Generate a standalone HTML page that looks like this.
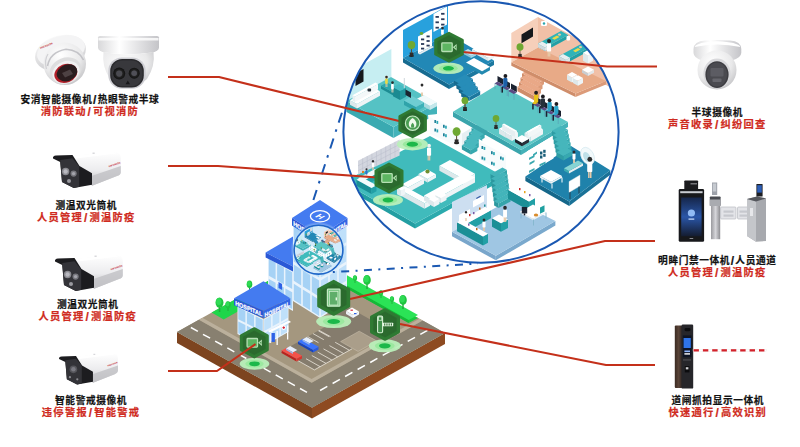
<!DOCTYPE html>
<html lang="zh"><head><meta charset="utf-8"><title>智慧医院安防方案</title>
<style>
html,body{margin:0;padding:0;background:#fff;overflow:hidden}
svg{display:block}
.bk{font-family:"Liberation Sans","Noto Sans CJK SC",sans-serif;font-weight:700;font-size:9.7px;fill:#111;stroke:#111;stroke-width:0.22px;text-anchor:middle;letter-spacing:0.6px}
.rd{font-family:"Liberation Sans","Noto Sans CJK SC",sans-serif;font-weight:700;font-size:10.25px;fill:#cf2a20;stroke:#cf2a20;stroke-width:0.2px;text-anchor:middle;letter-spacing:1.27px}
</style></head><body>
<svg width="800" height="447" viewBox="0 0 800 447">
<defs>
<clipPath id="bigc"><ellipse cx="481" cy="132" rx="137.3" ry="130.3"/></clipPath>
<clipPath id="smc"><circle cx="318.5" cy="249.7" r="24"/></clipPath>
<linearGradient id="gWhiteV" x1="0" y1="0" x2="0" y2="1"><stop offset="0" stop-color="#fafafa"/><stop offset="1" stop-color="#c9c9cc"/></linearGradient>
<linearGradient id="gWhiteH" x1="0" y1="0" x2="1" y2="0"><stop offset="0" stop-color="#d8d8da"/><stop offset="0.35" stop-color="#ffffff"/><stop offset="1" stop-color="#c4c4c8"/></linearGradient>
<radialGradient id="gDome" cx="0.4" cy="0.3" r="0.8"><stop offset="0" stop-color="#ffffff"/><stop offset="0.6" stop-color="#e9e9ea"/><stop offset="1" stop-color="#bdbdc0"/></radialGradient>
<radialGradient id="gLens" cx="0.5" cy="0.5" r="0.5"><stop offset="0" stop-color="#555"/><stop offset="0.6" stop-color="#222"/><stop offset="1" stop-color="#111"/></radialGradient>
<linearGradient id="gBody" x1="0" y1="0" x2="0" y2="1"><stop offset="0" stop-color="#ffffff"/><stop offset="0.55" stop-color="#ececee"/><stop offset="1" stop-color="#b9b9bd"/></linearGradient>
<linearGradient id="gMetal" x1="0" y1="0" x2="1" y2="0"><stop offset="0" stop-color="#9a9a9e"/><stop offset="0.5" stop-color="#d6d6da"/><stop offset="1" stop-color="#8c8c90"/></linearGradient>
<linearGradient id="gScreen" x1="0" y1="0" x2="0" y2="1"><stop offset="0" stop-color="#16264a"/><stop offset="0.5" stop-color="#2a56a8"/><stop offset="1" stop-color="#141c30"/></linearGradient>
<linearGradient id="gBronze" x1="0" y1="0" x2="1" y2="0"><stop offset="0" stop-color="#3a2a22"/><stop offset="0.5" stop-color="#5a4438"/><stop offset="1" stop-color="#2a2220"/></linearGradient>
<radialGradient id="gGlow" cx="0.5" cy="0.5" r="0.5"><stop offset="0.8" stop-color="#bfe0f8" stop-opacity="0.9"/><stop offset="1" stop-color="#bfe0f8" stop-opacity="0"/></radialGradient>
</defs>
<rect x="0.0" y="0.0" width="800.0" height="447.0" fill="#ffffff" />
<g clip-path="url(#bigc)"><g id="bigart">
<polygon points="391.4,77.0 345.0,102.5 345.0,74.5 391.4,49.0" fill="#c6eef2" />
<polygon points="355.5,73.5 363.5,69.0 363.5,81.5 355.5,86.0" fill="#15181c" />
<polygon points="346.5,101.0 393.5,127.0 393.5,138.0 346.5,112.0" fill="#3aaab1" />
<polygon points="393.5,127.0 437.0,103.0 437.0,114.0 393.5,138.0" fill="#43b3ba" />
<polygon points="391.0,77.0 437.0,103.0 393.5,127.0 346.5,101.0" fill="#55c2c4" />
<polygon points="350.0,100.2 357.0,104.0 357.0,108.5 350.0,104.7" fill="#dde8eb" />
<polygon points="357.0,104.0 380.0,91.3 380.0,95.8 357.0,108.5" fill="#eef4f6" />
<polygon points="373.0,87.5 380.0,91.3 357.0,104.0 350.0,100.2" fill="#ffffff" />
<polygon points="352.5,95.2 355.0,96.5 355.0,102.0 352.5,100.7" fill="#e9f1f3" />
<polygon points="355.0,96.5 378.0,83.9 378.0,89.4 355.0,102.0" fill="#f4f8f9" />
<polygon points="375.5,82.5 378.0,83.9 355.0,96.5 352.5,95.2" fill="#ffffff" />
<rect x="367.5" y="88.5" width="3.6" height="3.0" fill="#26303a" rx="1"/>
<polygon points="381.0,85.8 396.0,94.0 396.0,97.0 381.0,88.8" fill="#1d8c93" />
<polygon points="396.0,94.0 402.0,90.8 402.0,93.8 396.0,97.0" fill="#23999f" />
<polygon points="387.0,82.5 402.0,90.8 396.0,94.0 381.0,85.8" fill="#2aa7ae" />
<polygon points="393.0,87.3 400.0,91.1 400.0,100.1 393.0,96.3" fill="#1b8a91" />
<polygon points="400.0,91.1 406.0,87.8 406.0,96.8 400.0,100.1" fill="#23999f" />
<polygon points="399.0,84.0 406.0,87.8 400.0,91.1 393.0,87.3" fill="#45bcc3" />
<polygon points="417.0,98.8 430.0,106.0 430.0,110.0 417.0,102.8" fill="#a9dadf" />
<polygon points="430.0,106.0 437.0,102.2 437.0,106.2 430.0,110.0" fill="#c4e7eb" />
<polygon points="424.0,95.0 437.0,102.2 430.0,106.0 417.0,98.8" fill="#f2fafb" />
<polygon points="404.0,100.4 416.0,107.0 416.0,111.5 404.0,104.9" fill="#2fa3aa" />
<polygon points="416.0,107.0 424.0,102.6 424.0,107.1 416.0,111.5" fill="#3db1b8" />
<polygon points="412.0,96.0 424.0,102.6 416.0,107.0 404.0,100.4" fill="#6fcdd2" />
<rect x="385.6" y="83.4" width="0.8" height="3.6" fill="#e6c9a8" />
<rect x="386.6" y="83.4" width="0.8" height="3.6" fill="#e6c9a8" />
<rect x="385.1" y="78.5" width="2.7" height="5.4" fill="#e8d84a" rx="0.8"/>
<ellipse cx="386.5" cy="77.1" rx="1.3" ry="1.4" fill="#3a2a20" />
<rect x="391.6" y="88.9" width="0.8" height="3.6" fill="#e6c9a8" />
<rect x="392.6" y="88.9" width="0.8" height="3.6" fill="#e6c9a8" />
<rect x="391.1" y="84.0" width="2.7" height="5.4" fill="#ffffff" rx="0.8"/>
<ellipse cx="392.5" cy="82.6" rx="1.3" ry="1.4" fill="#2b2b2b" />
<rect x="421.0" y="92.0" width="0.9" height="4.0" fill="#e6c9a8" />
<rect x="422.1" y="92.0" width="0.9" height="4.0" fill="#e6c9a8" />
<rect x="420.5" y="86.5" width="3.0" height="6.0" fill="#ffffff" rx="0.8"/>
<ellipse cx="422.0" cy="85.0" rx="1.4" ry="1.5" fill="#2b2b2b" />
<rect x="403.8" y="78.0" width="1.0" height="10.0" fill="#cfd8dc" />
<polygon points="405.5,89.5 411.0,92.5 411.0,98.0 405.5,95.0" fill="#1a2530" />
<polygon points="343.0,182.0 415.0,223.5 415.0,228.5 343.0,187.0" fill="#239ea2" />
<polygon points="415.0,223.5 502.0,175.6 502.0,180.6 415.0,228.5" fill="#2baaad" />
<polygon points="430.0,136.0 502.0,175.6 415.0,223.5 343.0,182.0" fill="#40bbbc" />
<polygon points="358.0,174.5 399.6,155.5 399.6,139.4 358.0,160.8" fill="#d3d6df" />
<line x1="362.6" y1="158.4" x2="362.6" y2="173.4" stroke="#b9bdca" stroke-width="0.50" />
<line x1="367.2" y1="156.0" x2="367.2" y2="171.0" stroke="#b9bdca" stroke-width="0.50" />
<line x1="371.9" y1="153.7" x2="371.9" y2="168.7" stroke="#b9bdca" stroke-width="0.50" />
<line x1="376.5" y1="151.3" x2="376.5" y2="166.3" stroke="#b9bdca" stroke-width="0.50" />
<line x1="381.1" y1="148.9" x2="381.1" y2="163.9" stroke="#b9bdca" stroke-width="0.50" />
<line x1="385.7" y1="146.5" x2="385.7" y2="161.5" stroke="#b9bdca" stroke-width="0.50" />
<line x1="390.3" y1="144.1" x2="390.3" y2="159.1" stroke="#b9bdca" stroke-width="0.50" />
<line x1="395.0" y1="141.8" x2="395.0" y2="156.8" stroke="#b9bdca" stroke-width="0.50" />
<line x1="358.0" y1="165.8" x2="399.6" y2="144.4" stroke="#b9bdca" stroke-width="0.50" />
<line x1="358.0" y1="170.8" x2="399.6" y2="149.4" stroke="#b9bdca" stroke-width="0.50" />
<polygon points="358.0,178.3 363.0,181.1 363.0,187.1 358.0,184.3" fill="#1b8f96" />
<polygon points="363.0,181.1 380.0,171.8 380.0,177.8 363.0,187.1" fill="#22a0a6" />
<polygon points="375.0,169.0 380.0,171.8 363.0,181.1 358.0,178.3" fill="#f4fbfc" />
<polygon points="356.5,179.8 371.5,188.0 371.5,194.0 356.5,185.8" fill="#1b8f96" />
<polygon points="371.5,188.0 376.5,185.2 376.5,191.2 371.5,194.0" fill="#22a0a6" />
<polygon points="361.5,177.0 376.5,185.2 371.5,188.0 356.5,179.8" fill="#f4fbfc" />
<rect x="372.2" y="166.8" width="0.7" height="3.2" fill="#e6c9a8" />
<rect x="373.1" y="166.8" width="0.7" height="3.2" fill="#e6c9a8" />
<rect x="371.8" y="162.4" width="2.4" height="4.8" fill="#ffffff" rx="0.8"/>
<ellipse cx="373.0" cy="161.2" rx="1.1" ry="1.2" fill="#2b2b2b" />
<rect x="365.8" y="174.2" width="0.6" height="2.8" fill="#e6c9a8" />
<rect x="366.6" y="174.2" width="0.6" height="2.8" fill="#e6c9a8" />
<rect x="365.4" y="170.3" width="2.1" height="4.2" fill="#2a6fd0" rx="0.8"/>
<ellipse cx="366.5" cy="169.3" rx="1.0" ry="1.0" fill="#2b2b2b" />
<rect x="362.0" y="171.0" width="2.0" height="2.0" fill="#d9822b" />
<polygon points="418.5,174.0 427.5,178.9 427.5,182.4 418.5,177.5" fill="#dde8eb" />
<polygon points="427.5,178.9 436.0,174.2 436.0,177.8 427.5,182.4" fill="#eef4f6" />
<polygon points="427.0,169.3 436.0,174.2 427.5,178.9 418.5,174.0" fill="#ffffff" />
<ellipse cx="427.5" cy="171.5" rx="2.1" ry="2.1" fill="#6f8f2f" />
<polygon points="402.0,184.3 408.0,187.6 408.0,192.6 402.0,189.3" fill="#dde8eb" />
<polygon points="408.0,187.6 424.0,178.8 424.0,183.8 408.0,192.6" fill="#eef4f6" />
<polygon points="418.0,175.5 424.0,178.8 408.0,187.6 402.0,184.3" fill="#ffffff" />
<polygon points="399.5,189.5 424.5,203.3 424.5,208.8 399.5,195.0" fill="#dde8eb" />
<polygon points="424.5,203.3 430.0,200.2 430.0,205.8 424.5,208.8" fill="#eef4f6" />
<polygon points="405.0,186.5 430.0,200.2 424.5,203.3 399.5,189.5" fill="#ffffff" />
<polygon points="397.0,188.2 401.0,190.4 401.0,196.4 397.0,194.2" fill="#dde8eb" />
<polygon points="401.0,190.4 405.0,188.2 405.0,194.2 401.0,196.4" fill="#eef4f6" />
<polygon points="401.0,186.0 405.0,188.2 401.0,190.4 397.0,188.2" fill="#ffffff" />
<polygon points="439.4,165.8 464.4,179.6 464.4,184.6 439.4,170.8" fill="#dde8eb" />
<polygon points="464.4,179.6 475.0,173.8 475.0,178.8 464.4,184.6" fill="#eef4f6" />
<polygon points="450.0,160.0 475.0,173.8 464.4,179.6 439.4,165.8" fill="#ffffff" />
<polygon points="424.0,195.6 433.0,200.5 433.0,205.5 424.0,200.6" fill="#dde8eb" />
<polygon points="433.0,200.5 475.0,177.4 475.0,182.4 433.0,205.5" fill="#eef4f6" />
<polygon points="466.0,172.5 475.0,177.4 433.0,200.5 424.0,195.6" fill="#ffffff" />
<polygon points="435.5,195.0 441.0,198.1 441.0,203.1 435.5,200.0" fill="#dde8eb" />
<polygon points="441.0,198.1 446.5,195.0 446.5,200.0 441.0,203.1" fill="#eef4f6" />
<polygon points="441.0,192.0 446.5,195.0 441.0,198.1 435.5,195.0" fill="#ffffff" />
<polygon points="428.5,199.0 434.0,202.1 434.0,207.1 428.5,204.0" fill="#dde8eb" />
<polygon points="434.0,202.1 439.5,199.0 439.5,204.0 434.0,207.1" fill="#eef4f6" />
<polygon points="434.0,196.0 439.5,199.0 434.0,202.1 428.5,199.0" fill="#ffffff" />
<rect x="427.6" y="155.1" width="1.2" height="5.4" fill="#e6c9a8" />
<rect x="429.1" y="155.1" width="1.2" height="5.4" fill="#e6c9a8" />
<rect x="427.0" y="147.7" width="4.1" height="8.1" fill="#ffffff" rx="0.8"/>
<ellipse cx="429.0" cy="145.7" rx="1.9" ry="2.0" fill="#f2f2f2" />
<polygon points="428.0,115.0 453.0,112.5 474.0,128.0 474.0,150.0 462.0,148.0 430.0,134.0" fill="#ffffff" />
<polygon points="430.0,117.0 462.0,133.5 462.0,148.0 430.0,134.0" fill="#f7fbfc" />
<polygon points="462.0,133.5 470.5,128.5 470.5,143.5 462.0,148.0" fill="#e7eff2" />
<rect x="434.4" y="120.0" width="1.7" height="3.0" fill="#1d7f98" />
<rect x="436.5" y="120.9" width="1.7" height="3.0" fill="#2aa7b4" />
<rect x="443.0" y="124.8" width="1.7" height="3.0" fill="#1d7f98" />
<rect x="445.1" y="125.7" width="1.7" height="3.0" fill="#2aa7b4" />
<rect x="434.4" y="128.5" width="1.7" height="3.0" fill="#1d7f98" />
<rect x="436.5" y="129.4" width="1.7" height="3.0" fill="#2aa7b4" />
<rect x="443.0" y="133.3" width="1.7" height="3.0" fill="#1d7f98" />
<rect x="445.1" y="134.2" width="1.7" height="3.0" fill="#2aa7b4" />
<ellipse cx="456.6" cy="143.0" rx="2.6" ry="1.2" fill="#222" />
<rect x="454.7" y="139.4" width="3.8" height="3.6" fill="#2b2b2b" />
<rect x="456.1" y="133.4" width="1.0" height="6.6" fill="#5a4a32" />
<ellipse cx="456.6" cy="131.6" rx="4.0" ry="4.3" fill="#6fa832" />
<polygon points="471.5,128.1 480.5,133.0 480.5,137.3 471.5,132.4" fill="#2f9da4" />
<polygon points="480.5,133.0 487.0,129.4 487.0,133.8 480.5,137.3" fill="#38a9af" />
<polygon points="478.0,124.5 487.0,129.4 480.5,133.0 471.5,128.1" fill="#49b8be" />
<polygon points="469.1,132.4 478.1,137.3 478.1,141.6 469.1,136.7" fill="#2f9da4" />
<polygon points="478.1,137.3 484.6,133.8 484.6,138.1 478.1,141.6" fill="#38a9af" />
<polygon points="475.6,128.8 484.6,133.8 478.1,137.3 469.1,132.4" fill="#49b8be" />
<polygon points="466.7,136.7 475.7,141.6 475.7,145.9 466.7,141.0" fill="#2f9da4" />
<polygon points="475.7,141.6 482.2,138.0 482.2,142.3 475.7,145.9" fill="#38a9af" />
<polygon points="473.2,133.1 482.2,138.0 475.7,141.6 466.7,136.7" fill="#49b8be" />
<polygon points="464.3,141.0 473.3,145.9 473.3,150.2 464.3,145.3" fill="#2f9da4" />
<polygon points="473.3,145.9 479.8,142.3 479.8,146.7 473.3,150.2" fill="#38a9af" />
<polygon points="470.8,137.4 479.8,142.3 473.3,145.9 464.3,141.0" fill="#49b8be" />
<polygon points="461.9,145.3 470.9,150.2 470.9,154.5 461.9,149.6" fill="#2f9da4" />
<polygon points="470.9,150.2 477.4,146.6 477.4,150.9 470.9,154.5" fill="#38a9af" />
<polygon points="468.4,141.7 477.4,146.6 470.9,150.2 461.9,145.3" fill="#49b8be" />
<polygon points="478.8,139.0 515.0,159.0 515.0,182.0 478.8,162.0" fill="#ffffff" />
<polygon points="479.5,141.0 506.0,155.5 506.0,174.0 479.5,159.5" fill="#f7fbfc" />
<rect x="481.5" y="146.0" width="1.7" height="3.0" fill="#1d7f98" />
<rect x="483.6" y="146.9" width="1.7" height="3.0" fill="#2aa7b4" />
<rect x="491.0" y="151.2" width="1.7" height="3.0" fill="#1d7f98" />
<rect x="493.1" y="152.1" width="1.7" height="3.0" fill="#2aa7b4" />
<rect x="481.5" y="156.5" width="1.7" height="3.0" fill="#1d7f98" />
<rect x="483.6" y="157.4" width="1.7" height="3.0" fill="#2aa7b4" />
<rect x="491.0" y="161.7" width="1.7" height="3.0" fill="#1d7f98" />
<rect x="493.1" y="162.6" width="1.7" height="3.0" fill="#2aa7b4" />
<rect x="500.0" y="156.5" width="1.7" height="3.0" fill="#1d7f98" />
<rect x="502.1" y="157.4" width="1.7" height="3.0" fill="#2aa7b4" />
<polygon points="521.0,155.0 568.0,127.0 568.0,160.0 521.0,190.0" fill="#ffffff" />
<polygon points="453.0,111.7 521.0,150.0 521.0,155.0 453.0,116.7" fill="#3aa5ac" />
<polygon points="521.0,150.0 568.0,122.0 568.0,127.0 521.0,155.0" fill="#45b2b8" />
<polygon points="498.5,84.0 568.0,122.0 521.0,150.0 453.0,111.7" fill="#5cc6c5" />
<polygon points="522.0,73.2 539.0,82.6 539.0,87.1 522.0,77.8" fill="#cf8d6a" />
<polygon points="539.0,82.6 544.0,79.8 544.0,84.3 539.0,87.1" fill="#dc9b79" />
<polygon points="527.0,70.5 544.0,79.8 539.0,82.6 522.0,73.2" fill="#e9a887" />
<polygon points="520.5,77.8 537.5,87.1 537.5,91.6 520.5,82.2" fill="#cf8d6a" />
<polygon points="537.5,87.1 542.5,84.3 542.5,88.8 537.5,91.6" fill="#dc9b79" />
<polygon points="525.5,75.0 542.5,84.3 537.5,87.1 520.5,77.8" fill="#e9a887" />
<polygon points="519.0,82.2 536.0,91.6 536.0,96.1 519.0,86.8" fill="#cf8d6a" />
<polygon points="536.0,91.6 541.0,88.8 541.0,93.3 536.0,96.1" fill="#dc9b79" />
<polygon points="524.0,79.5 541.0,88.8 536.0,91.6 519.0,82.2" fill="#e9a887" />
<polygon points="517.5,86.8 534.5,96.1 534.5,100.6 517.5,91.2" fill="#cf8d6a" />
<polygon points="534.5,96.1 539.5,93.3 539.5,97.8 534.5,100.6" fill="#dc9b79" />
<polygon points="522.5,84.0 539.5,93.3 534.5,96.1 517.5,86.8" fill="#e9a887" />
<ellipse cx="465.0" cy="110.0" rx="2.2" ry="1.0" fill="#222" />
<rect x="463.4" y="107.0" width="3.2" height="3.0" fill="#2b2b2b" />
<rect x="464.6" y="102.0" width="0.8" height="5.5" fill="#5a4a32" />
<ellipse cx="465.0" cy="100.5" rx="3.3" ry="3.6" fill="#6fa832" />
<ellipse cx="496.0" cy="128.0" rx="2.2" ry="1.0" fill="#222" />
<rect x="494.4" y="125.0" width="3.2" height="3.0" fill="#2b2b2b" />
<rect x="495.6" y="120.0" width="0.8" height="5.5" fill="#5a4a32" />
<ellipse cx="496.0" cy="118.5" rx="3.3" ry="3.6" fill="#6fa832" />
<polygon points="497.5,76.0 503.2,79.1 503.2,84.8 497.5,81.6" fill="#1b2230" />
<polygon points="497.5,81.6 503.2,84.8 500.2,86.5 494.5,83.4" fill="#5a4a82" />
<line x1="495.0" y1="83.5" x2="495.0" y2="89.1" stroke="#5aa0b4" stroke-width="0.70" />
<line x1="500.5" y1="86.5" x2="500.5" y2="92.2" stroke="#5aa0b4" stroke-width="0.70" />
<polygon points="504.2,79.8 510.0,82.9 510.0,88.5 504.2,85.4" fill="#1b2230" />
<polygon points="504.2,85.4 510.0,88.5 507.0,90.2 501.2,87.1" fill="#5a4a82" />
<line x1="501.8" y1="87.2" x2="501.8" y2="92.9" stroke="#5aa0b4" stroke-width="0.70" />
<line x1="507.2" y1="90.2" x2="507.2" y2="96.0" stroke="#5aa0b4" stroke-width="0.70" />
<rect x="503.2" y="77.9" width="4.2" height="8.1" fill="#1c5fa8" rx="1"/>
<ellipse cx="505.4" cy="76.0" rx="1.9" ry="2.0" fill="#1d1d22" />
<rect x="502.0" y="85.4" width="3.8" height="2.0" fill="#1c5fa8" />
<rect x="501.5" y="87.0" width="1.5" height="5.6" fill="#1b2230" />
<polygon points="511.0,83.5 516.8,86.6 516.8,92.2 511.0,89.1" fill="#1b2230" />
<polygon points="511.0,89.1 516.8,92.2 513.8,94.0 508.0,90.9" fill="#5a4a82" />
<line x1="508.5" y1="91.0" x2="508.5" y2="96.6" stroke="#5aa0b4" stroke-width="0.70" />
<line x1="514.0" y1="94.0" x2="514.0" y2="99.8" stroke="#5aa0b4" stroke-width="0.70" />
<polygon points="535.0,96.5 540.8,99.6 540.8,105.2 535.0,102.1" fill="#1b2230" />
<polygon points="535.0,102.1 540.8,105.2 537.8,107.0 532.0,103.9" fill="#5a4a82" />
<line x1="532.5" y1="104.0" x2="532.5" y2="109.6" stroke="#5aa0b4" stroke-width="0.70" />
<line x1="538.0" y1="107.0" x2="538.0" y2="112.8" stroke="#5aa0b4" stroke-width="0.70" />
<rect x="534.0" y="94.6" width="4.2" height="8.1" fill="#e8c21a" rx="1"/>
<ellipse cx="536.1" cy="92.8" rx="1.9" ry="2.0" fill="#1d1d22" />
<rect x="532.8" y="102.1" width="3.8" height="2.0" fill="#e8c21a" />
<rect x="532.2" y="103.8" width="1.5" height="5.6" fill="#1b2230" />
<polygon points="541.8,100.2 547.5,103.4 547.5,109.0 541.8,105.9" fill="#1b2230" />
<polygon points="541.8,105.9 547.5,109.0 544.5,110.8 538.8,107.6" fill="#5a4a82" />
<line x1="539.2" y1="107.8" x2="539.2" y2="113.4" stroke="#5aa0b4" stroke-width="0.70" />
<line x1="544.8" y1="110.8" x2="544.8" y2="116.5" stroke="#5aa0b4" stroke-width="0.70" />
<rect x="540.8" y="98.4" width="4.2" height="8.1" fill="#26303a" rx="1"/>
<ellipse cx="542.9" cy="96.5" rx="1.9" ry="2.0" fill="#1d1d22" />
<rect x="539.5" y="105.9" width="3.8" height="2.0" fill="#26303a" />
<rect x="539.0" y="107.5" width="1.5" height="5.6" fill="#1b2230" />
<polygon points="548.5,104.0 554.2,107.1 554.2,112.8 548.5,109.6" fill="#1b2230" />
<polygon points="548.5,109.6 554.2,112.8 551.2,114.5 545.5,111.4" fill="#5a4a82" />
<line x1="546.0" y1="111.5" x2="546.0" y2="117.1" stroke="#5aa0b4" stroke-width="0.70" />
<line x1="551.5" y1="114.5" x2="551.5" y2="120.2" stroke="#5aa0b4" stroke-width="0.70" />
<rect x="547.5" y="102.1" width="4.2" height="8.1" fill="#2aa3c8" rx="1"/>
<ellipse cx="549.6" cy="100.2" rx="1.9" ry="2.0" fill="#1d1d22" />
<rect x="546.2" y="109.6" width="3.8" height="2.0" fill="#2aa3c8" />
<rect x="545.8" y="111.2" width="1.5" height="5.6" fill="#1b2230" />
<polygon points="555.2,107.8 561.0,110.9 561.0,116.5 555.2,113.4" fill="#1b2230" />
<polygon points="555.2,113.4 561.0,116.5 558.0,118.2 552.2,115.1" fill="#5a4a82" />
<line x1="552.8" y1="115.2" x2="552.8" y2="120.9" stroke="#5aa0b4" stroke-width="0.70" />
<line x1="558.2" y1="118.2" x2="558.2" y2="124.0" stroke="#5aa0b4" stroke-width="0.70" />
<rect x="554.2" y="105.9" width="4.2" height="8.1" fill="#2aa3c8" rx="1"/>
<ellipse cx="556.4" cy="104.0" rx="1.9" ry="2.0" fill="#1d1d22" />
<rect x="553.0" y="113.4" width="3.8" height="2.0" fill="#2aa3c8" />
<rect x="552.5" y="115.0" width="1.5" height="5.6" fill="#1b2230" />
<polygon points="499.0,128.8 505.5,132.4 505.5,137.4 499.0,133.8" fill="#dde8eb" />
<polygon points="505.5,132.4 511.5,129.1 511.5,134.1 505.5,137.4" fill="#eef4f6" />
<polygon points="505.0,125.5 511.5,129.1 505.5,132.4 499.0,128.8" fill="#ffffff" />
<polygon points="505.5,132.3 512.0,135.9 512.0,140.9 505.5,137.3" fill="#dde8eb" />
<polygon points="512.0,135.9 518.0,132.6 518.0,137.6 512.0,140.9" fill="#eef4f6" />
<polygon points="511.5,129.0 518.0,132.6 512.0,135.9 505.5,132.3" fill="#ffffff" />
<polygon points="502.2,124.5 515.2,131.6 515.2,137.1 502.2,130.0" fill="#e6eef1" />
<polygon points="515.2,131.6 517.0,130.7 517.0,136.2 515.2,137.1" fill="#f2f7f8" />
<polygon points="504.0,123.5 517.0,130.7 515.2,131.6 502.2,124.5" fill="#ffffff" />
<polygon points="530.5,129.6 536.5,132.9 536.5,137.9 530.5,134.6" fill="#dde8eb" />
<polygon points="536.5,132.9 543.0,129.3 543.0,134.3 536.5,137.9" fill="#eef4f6" />
<polygon points="537.0,126.0 543.0,129.3 536.5,132.9 530.5,129.6" fill="#ffffff" />
<polygon points="524.5,133.1 530.5,136.4 530.5,141.4 524.5,138.1" fill="#dde8eb" />
<polygon points="530.5,136.4 537.0,132.8 537.0,137.8 530.5,141.4" fill="#eef4f6" />
<polygon points="531.0,129.5 537.0,132.8 530.5,136.4 524.5,133.1" fill="#ffffff" />
<polygon points="526.5,131.7 528.3,132.6 528.3,138.1 526.5,137.2" fill="#e6eef1" />
<polygon points="528.3,132.6 541.3,125.5 541.3,131.0 528.3,138.1" fill="#f2f7f8" />
<polygon points="539.5,124.5 541.3,125.5 528.3,132.6 526.5,131.7" fill="#ffffff" />
<polygon points="515.0,138.8 522.0,142.7 522.0,146.2 515.0,142.3" fill="#20262e" />
<polygon points="522.0,142.7 529.0,138.8 529.0,142.3 522.0,146.2" fill="#2b323c" />
<polygon points="522.0,135.0 529.0,138.8 522.0,142.7 515.0,138.8" fill="#ffffff" />
<polygon points="403.0,58.0 448.0,34.0 448.0,5.5 403.0,30.0" fill="#28a1dd" />
<polygon points="403.0,58.0 449.0,84.5 449.0,89.0 403.0,62.5" fill="#176b90" />
<polygon points="449.0,84.5 494.0,60.5 494.0,65.0 449.0,89.0" fill="#1c789f" />
<polygon points="448.0,34.0 494.0,60.5 449.0,84.5 403.0,58.0" fill="#2288b6" />
<polygon points="454.0,80.5 462.0,85.0 462.0,89.0 454.0,84.5" fill="#176b90" />
<polygon points="462.0,85.0 473.0,78.9 473.0,82.9 462.0,89.0" fill="#1c789f" />
<polygon points="465.0,74.5 473.0,78.9 462.0,85.0 454.0,80.5" fill="#278db8" />
<polygon points="456.4,84.5 464.4,89.0 464.4,93.0 456.4,88.5" fill="#176b90" />
<polygon points="464.4,89.0 475.4,82.9 475.4,86.9 464.4,93.0" fill="#1c789f" />
<polygon points="467.4,78.5 475.4,82.9 464.4,89.0 456.4,84.5" fill="#278db8" />
<polygon points="458.8,88.5 466.8,93.0 466.8,97.0 458.8,92.5" fill="#176b90" />
<polygon points="466.8,93.0 477.8,86.9 477.8,90.9 466.8,97.0" fill="#1c789f" />
<polygon points="469.8,82.5 477.8,86.9 466.8,93.0 458.8,88.5" fill="#278db8" />
<polygon points="461.2,92.5 469.2,97.0 469.2,101.0 461.2,96.5" fill="#176b90" />
<polygon points="469.2,97.0 480.2,90.9 480.2,94.9 469.2,101.0" fill="#1c789f" />
<polygon points="472.2,86.5 480.2,90.9 469.2,97.0 461.2,92.5" fill="#278db8" />
<ellipse cx="465.0" cy="110.0" rx="2.2" ry="1.0" fill="#222" />
<rect x="463.4" y="107.0" width="3.2" height="3.0" fill="#2b2b2b" />
<rect x="464.6" y="102.0" width="0.8" height="5.5" fill="#5a4a32" />
<ellipse cx="465.0" cy="100.5" rx="3.3" ry="3.6" fill="#6fa832" />
<polygon points="418.0,36.5 432.0,29.0 432.0,46.0 418.0,53.5" fill="#ffffff" />
<polygon points="418.0,53.5 432.0,46.0 434.0,47.0 420.0,54.5" fill="#e6eef2" />
<rect x="421.0" y="38.5" width="3.2" height="1.8" fill="#2a3a5a" />
<rect x="426.5" y="35.5" width="3.2" height="1.8" fill="#2a3a5a" />
<rect x="421.0" y="43.1" width="3.2" height="1.8" fill="#2a3a5a" />
<rect x="426.5" y="40.1" width="3.2" height="1.8" fill="#2a3a5a" />
<rect x="421.0" y="47.7" width="3.2" height="1.8" fill="#2a3a5a" />
<rect x="426.5" y="44.7" width="3.2" height="1.8" fill="#2a3a5a" />
<ellipse cx="421.5" cy="33.5" rx="1.8" ry="1.4" fill="#6fa832" />
<polygon points="433.5,14.0 447.0,6.5 447.0,24.5 433.5,32.0" fill="#ffffff" />
<rect x="435.5" y="16.0" width="3.4" height="1.8" fill="#2a3a5a" />
<rect x="441.1" y="12.9" width="3.4" height="1.8" fill="#2a3a5a" />
<rect x="435.5" y="21.4" width="3.4" height="1.8" fill="#2a3a5a" />
<rect x="441.1" y="18.3" width="3.4" height="1.8" fill="#2a3a5a" />
<rect x="435.5" y="26.8" width="3.4" height="1.8" fill="#2a3a5a" />
<rect x="441.1" y="23.7" width="3.4" height="1.8" fill="#2a3a5a" />
<ellipse cx="411.5" cy="56.0" rx="2.5" ry="1.1" fill="#222" />
<rect x="409.7" y="52.5" width="3.7" height="3.4" fill="#2b2b2b" />
<rect x="411.0" y="46.8" width="0.9" height="6.3" fill="#5a4a32" />
<ellipse cx="411.5" cy="45.1" rx="3.8" ry="4.1" fill="#6fa832" />
<rect x="441.6" y="34.4" width="0.8" height="3.6" fill="#e6c9a8" />
<rect x="442.6" y="34.4" width="0.8" height="3.6" fill="#e6c9a8" />
<rect x="441.1" y="29.4" width="2.7" height="5.4" fill="#ffffff" rx="0.8"/>
<ellipse cx="442.5" cy="28.1" rx="1.3" ry="1.4" fill="#2b2b2b" />
<polygon points="472.0,49.3 488.0,58.1 488.0,61.1 472.0,52.3" fill="#dde8eb" />
<polygon points="488.0,58.1 494.0,54.8 494.0,57.8 488.0,61.1" fill="#eef4f6" />
<polygon points="478.0,46.0 494.0,54.8 488.0,58.1 472.0,49.3" fill="#ffffff" />
<polygon points="466.0,62.4 482.0,71.2 482.0,74.7 466.0,65.9" fill="#2389b0" />
<polygon points="482.0,71.2 490.0,66.8 490.0,70.3 482.0,74.7" fill="#2389b0" />
<polygon points="474.0,58.0 490.0,66.8 482.0,71.2 466.0,62.4" fill="#ffffff" />
<polygon points="463.0,51.8 471.0,56.1 471.0,58.1 463.0,53.8" fill="#8cc7d8" />
<polygon points="471.0,56.1 476.0,53.4 476.0,55.4 471.0,58.1" fill="#a6d6e3" />
<polygon points="468.0,49.0 476.0,53.4 471.0,56.1 463.0,51.8" fill="#bfe3ee" />
<polygon points="511.3,62.2 538.0,47.5 538.0,17.0 511.3,33.0" fill="#f6cfba" />
<polygon points="538.0,47.5 612.0,88.2 612.0,57.7 538.0,17.0" fill="#f1c0a7" />
<polygon points="511.3,62.2 575.5,93.5 575.5,97.0 511.3,65.7" fill="#cf8d6a" />
<polygon points="575.5,93.5 606.0,81.0 606.0,84.5 575.5,97.0" fill="#dc9b79" />
<polygon points="538.0,47.5 606.0,81.0 575.5,93.5 511.3,62.2" fill="#e8aa87" />
<polygon points="521.5,34.5 533.0,27.6 533.0,36.4 521.5,43.3" fill="#15181c" />
<ellipse cx="520.0" cy="57.0" rx="2.3" ry="1.1" fill="#222" />
<rect x="518.3" y="53.9" width="3.4" height="3.2" fill="#2b2b2b" />
<rect x="519.6" y="48.6" width="0.8" height="5.8" fill="#5a4a32" />
<ellipse cx="520.0" cy="47.0" rx="3.5" ry="3.8" fill="#6fa832" />
<polygon points="538.0,43.6 545.0,47.5 545.0,51.0 538.0,47.1" fill="#1d8c93" />
<polygon points="545.0,47.5 568.0,34.9 568.0,38.4 545.0,51.0" fill="#22a0a6" />
<polygon points="561.0,31.0 568.0,34.9 545.0,47.5 538.0,43.6" fill="#2fb3b8" />
<polygon points="538.0,43.7 545.0,47.5 545.0,51.0 538.0,47.2" fill="#cfd8dc" />
<polygon points="545.0,47.5 549.0,45.3 549.0,48.8 545.0,51.0" fill="#dfe6e9" />
<polygon points="542.0,41.5 549.0,45.3 545.0,47.5 538.0,43.7" fill="#e8eef0" />
<ellipse cx="559.5" cy="34.6" rx="1.5" ry="1.2" fill="#e6c9a8" />
<polygon points="557.0,35.4 552.0,38.2 554.5,39.8 559.5,37.0" fill="#e8d84a" />
<polygon points="559.0,56.1 566.0,60.0 566.0,63.5 559.0,59.6" fill="#1d8c93" />
<polygon points="566.0,60.0 589.0,47.4 589.0,50.9 566.0,63.5" fill="#22a0a6" />
<polygon points="582.0,43.5 589.0,47.4 566.0,60.0 559.0,56.1" fill="#2fb3b8" />
<polygon points="559.0,56.2 566.0,60.0 566.0,63.5 559.0,59.7" fill="#cfd8dc" />
<polygon points="566.0,60.0 570.0,57.8 570.0,61.3 566.0,63.5" fill="#dfe6e9" />
<polygon points="563.0,54.0 570.0,57.8 566.0,60.0 559.0,56.2" fill="#e8eef0" />
<ellipse cx="580.5" cy="47.1" rx="1.5" ry="1.2" fill="#e6c9a8" />
<polygon points="578.0,47.9 573.0,50.7 575.5,52.3 580.5,49.5" fill="#e8d84a" />
<rect x="547.6" y="50.9" width="1.3" height="5.6" fill="#e6c9a8" />
<rect x="549.1" y="50.9" width="1.3" height="5.6" fill="#e6c9a8" />
<rect x="546.9" y="43.2" width="4.2" height="8.4" fill="#ffffff" rx="0.8"/>
<ellipse cx="549.0" cy="41.1" rx="2.0" ry="2.1" fill="#2b2b2b" />
<rect x="541.0" y="21.0" width="6.0" height="5.0" fill="#ffffff" rx="1.2"/>
<ellipse cx="544.0" cy="23.5" rx="1.2" ry="1.2" fill="#2aa7ae" />
<rect x="566.5" y="36.0" width="3.6" height="4.4" fill="#ffffff" rx="0.8"/>
<polygon points="567.0,74.8 572.0,77.5 572.0,82.5 567.0,79.8" fill="#dde8eb" />
<polygon points="572.0,77.5 577.0,74.8 577.0,79.8 572.0,82.5" fill="#eef4f6" />
<polygon points="572.0,72.0 577.0,74.8 572.0,77.5 567.0,74.8" fill="#ffffff" />
<polygon points="573.0,78.0 578.0,80.7 578.0,85.7 573.0,83.0" fill="#dde8eb" />
<polygon points="578.0,80.7 583.0,78.0 583.0,83.0 578.0,85.7" fill="#eef4f6" />
<polygon points="578.0,75.2 583.0,78.0 578.0,80.7 573.0,78.0" fill="#ffffff" />
<polygon points="582.0,69.8 588.0,73.1 588.0,76.1 582.0,72.8" fill="#c9ced2" />
<polygon points="588.0,73.1 594.0,69.8 594.0,72.8 588.0,76.1" fill="#e3e7ea" />
<polygon points="588.0,66.5 594.0,69.8 588.0,73.1 582.0,69.8" fill="#ffffff" />
<polygon points="583.0,52.8 588.0,55.5 588.0,63.5 583.0,60.8" fill="#dde8eb" />
<polygon points="588.0,55.5 593.0,52.8 593.0,60.8 588.0,63.5" fill="#eef4f6" />
<polygon points="588.0,50.0 593.0,52.8 588.0,55.5 583.0,52.8" fill="#ffffff" />
<polygon points="527.0,151.4 553.5,135.5 553.5,161.0 527.0,176.5" fill="#ffffff" />
<polygon points="525.4,176.5 569.2,201.6 569.2,206.1 525.4,181.0" fill="#15678a" />
<polygon points="569.2,201.6 610.3,170.3 610.3,174.8 569.2,206.1" fill="#1a7297" />
<polygon points="571.0,146.0 610.3,170.3 569.2,201.6 525.4,176.5" fill="#1f82ab" />
<polygon points="527.0,151.4 553.5,135.5 553.5,158.5 527.0,174.0" fill="#ffffff" />
<rect x="540.0" y="151.5" width="2.4" height="3.0" fill="#1a5e78" />
<rect x="543.2" y="149.8" width="2.4" height="3.0" fill="#1a5e78" />
<rect x="540.0" y="155.5" width="2.4" height="3.0" fill="#1a5e78" />
<rect x="543.2" y="153.8" width="2.4" height="3.0" fill="#1a5e78" />
<polygon points="529.0,157.7 534.5,154.9 534.5,157.1 529.0,159.9" fill="#3aa8b0" />
<polygon points="529.5,162.7 534.5,159.9 534.5,162.1 529.5,164.9" fill="#3aa8b0" />
<polygon points="539.5,164.2 545.5,161.4 545.5,163.6 539.5,166.4" fill="#3aa8b0" />
<polygon points="529.0,170.7 534.5,167.9 534.5,170.1 529.0,172.9" fill="#3aa8b0" />
<polygon points="533.0,154.2 537.0,151.4 537.0,153.6 533.0,156.4" fill="#3aa8b0" />
<polygon points="551.9,130.8 558.9,134.6 558.9,138.9 551.9,135.1" fill="#2f9da4" />
<polygon points="558.9,134.6 567.9,129.7 567.9,134.0 558.9,138.9" fill="#38a9af" />
<polygon points="560.9,125.8 567.9,129.7 558.9,134.6 551.9,130.8" fill="#46b6bc" />
<polygon points="552.8,135.0 559.8,138.9 559.8,143.2 552.8,139.3" fill="#2f9da4" />
<polygon points="559.8,138.9 568.8,133.9 568.8,138.2 559.8,143.2" fill="#38a9af" />
<polygon points="561.8,130.1 568.8,133.9 559.8,138.9 552.8,135.0" fill="#46b6bc" />
<polygon points="553.7,139.3 560.7,143.2 560.7,147.5 553.7,143.7" fill="#2f9da4" />
<polygon points="560.7,143.2 569.7,138.2 569.7,142.6 560.7,147.5" fill="#38a9af" />
<polygon points="562.7,134.4 569.7,138.2 560.7,143.2 553.7,139.3" fill="#46b6bc" />
<polygon points="554.6,143.6 561.6,147.5 561.6,151.8 554.6,147.9" fill="#2f9da4" />
<polygon points="561.6,147.5 570.6,142.5 570.6,146.8 561.6,151.8" fill="#38a9af" />
<polygon points="563.6,138.7 570.6,142.5 561.6,147.5 554.6,143.6" fill="#46b6bc" />
<polygon points="555.5,147.9 562.5,151.8 562.5,156.1 555.5,152.2" fill="#2f9da4" />
<polygon points="562.5,151.8 571.5,146.8 571.5,151.2 562.5,156.1" fill="#38a9af" />
<polygon points="564.5,143.0 571.5,146.8 562.5,151.8 555.5,147.9" fill="#46b6bc" />
<polygon points="556.4,152.2 563.4,156.1 563.4,160.4 556.4,156.6" fill="#2f9da4" />
<polygon points="563.4,156.1 572.4,151.2 572.4,155.5 563.4,160.4" fill="#38a9af" />
<polygon points="565.4,147.3 572.4,151.2 563.4,156.1 556.4,152.2" fill="#46b6bc" />
<polygon points="540.0,176.1 551.0,182.1 551.0,183.7 540.0,177.7" fill="#e6edf0" />
<polygon points="551.0,182.1 562.0,176.1 562.0,177.7 551.0,183.7" fill="#f3f7f8" />
<polygon points="551.0,170.0 562.0,176.1 551.0,182.1 540.0,176.1" fill="#ffffff" />
<rect x="541.5" y="177.5" width="1.0" height="5.0" fill="#ffffff" />
<rect x="551.5" y="183.5" width="1.0" height="5.0" fill="#ffffff" />
<rect x="561.5" y="177.5" width="1.0" height="5.0" fill="#ffffff" />
<ellipse cx="587.5" cy="156.0" rx="6.2" ry="9.2" fill="#f2f9fb" transform="rotate(-28 587.5 156)" stroke="#d5e9ef" stroke-width="0.7"/>
<ellipse cx="586.8" cy="157.0" rx="3.2" ry="5.4" fill="#bfe0e8" transform="rotate(-28 586.8 157)"/>
<polygon points="564.0,168.2 569.0,170.9 569.0,173.4 564.0,170.7" fill="#3aa8b0" />
<polygon points="569.0,170.9 583.0,163.2 583.0,165.8 569.0,173.4" fill="#e8eef0" />
<polygon points="578.0,160.5 583.0,163.2 569.0,170.9 564.0,168.2" fill="#86d3d3" />
<rect x="573.0" y="159.0" width="0.9" height="4.0" fill="#e6c9a8" />
<rect x="574.1" y="159.0" width="0.9" height="4.0" fill="#e6c9a8" />
<rect x="572.5" y="153.5" width="3.0" height="6.0" fill="#ffffff" rx="0.8"/>
<ellipse cx="574.0" cy="152.0" rx="1.4" ry="1.5" fill="#2b2b2b" />
<rect x="588.1" y="171.2" width="1.5" height="6.8" fill="#e6c9a8" />
<rect x="590.0" y="171.2" width="1.5" height="6.8" fill="#e6c9a8" />
<rect x="587.2" y="161.8" width="5.1" height="10.2" fill="#ffffff" rx="0.8"/>
<ellipse cx="589.8" cy="159.3" rx="2.4" ry="2.5" fill="#2b2b2b" />
<polygon points="569.0,181.5 580.0,175.0 580.0,186.0 569.0,192.5" fill="#ffffff" stroke="#cfd8dc" stroke-width="0.4"/>
<line x1="570.0" y1="192.0" x2="570.0" y2="199.0" stroke="#26303a" stroke-width="0.80" />
<line x1="579.0" y1="186.5" x2="579.0" y2="193.5" stroke="#26303a" stroke-width="0.80" />
<polygon points="452.0,231.8 487.0,212.5 487.0,185.0 452.0,202.0" fill="#cddff1" />
<polygon points="452.0,231.8 495.8,255.8 495.8,260.3 452.0,236.2" fill="#79a6cb" />
<polygon points="495.8,255.8 555.4,221.0 555.4,225.5 495.8,260.3" fill="#7aa9cd" />
<polygon points="511.4,199.0 555.4,221.0 495.8,255.8 452.0,231.8" fill="#9fc6e3" />
<polygon points="490.5,174.1 495.0,176.6 495.0,181.1 490.5,178.6" fill="#2c989f" />
<polygon points="495.0,176.6 507.0,170.0 507.0,174.5 495.0,181.1" fill="#35a5ab" />
<polygon points="502.5,167.5 507.0,170.0 495.0,176.6 490.5,174.1" fill="#43b4ba" />
<polygon points="491.1,178.6 495.6,181.1 495.6,185.6 491.1,183.1" fill="#2c989f" />
<polygon points="495.6,181.1 507.6,174.5 507.6,179.0 495.6,185.6" fill="#35a5ab" />
<polygon points="503.1,172.0 507.6,174.5 495.6,181.1 491.1,178.6" fill="#43b4ba" />
<polygon points="491.7,183.1 496.2,185.6 496.2,190.1 491.7,187.6" fill="#2c989f" />
<polygon points="496.2,185.6 508.2,179.0 508.2,183.5 496.2,190.1" fill="#35a5ab" />
<polygon points="503.7,176.5 508.2,179.0 496.2,185.6 491.7,183.1" fill="#43b4ba" />
<polygon points="492.3,187.6 496.8,190.1 496.8,194.6 492.3,192.1" fill="#2c989f" />
<polygon points="496.8,190.1 508.8,183.5 508.8,188.0 496.8,194.6" fill="#35a5ab" />
<polygon points="504.3,181.0 508.8,183.5 496.8,190.1 492.3,187.6" fill="#43b4ba" />
<polygon points="492.9,192.1 497.4,194.6 497.4,199.1 492.9,196.6" fill="#2c989f" />
<polygon points="497.4,194.6 509.4,188.0 509.4,192.5 497.4,199.1" fill="#35a5ab" />
<polygon points="504.9,185.5 509.4,188.0 497.4,194.6 492.9,192.1" fill="#43b4ba" />
<polygon points="493.5,196.6 498.0,199.1 498.0,203.6 493.5,201.1" fill="#2c989f" />
<polygon points="498.0,199.1 510.0,192.5 510.0,197.0 498.0,203.6" fill="#35a5ab" />
<polygon points="505.5,190.0 510.0,192.5 498.0,199.1 493.5,196.6" fill="#43b4ba" />
<polygon points="494.1,201.1 498.6,203.6 498.6,208.1 494.1,205.6" fill="#2c989f" />
<polygon points="498.6,203.6 510.6,197.0 510.6,201.5 498.6,208.1" fill="#35a5ab" />
<polygon points="506.1,194.5 510.6,197.0 498.6,203.6 494.1,201.1" fill="#43b4ba" />
<polygon points="459.0,215.0 470.0,209.0 470.0,215.5 459.0,221.5" fill="#ffffff" />
<polygon points="473.0,201.0 484.0,195.0 484.0,201.5 473.0,207.5" fill="#ffffff" />
<rect x="476.0" y="198.0" width="5.0" height="1.2" fill="#3a5fa8" transform="rotate(-29 476 198)"/>
<polygon points="460.0,220.8 466.0,224.1 466.0,232.1 460.0,228.8" fill="#1b8f96" />
<polygon points="466.0,224.1 491.0,210.3 491.0,218.3 466.0,232.1" fill="#22a0a6" />
<polygon points="485.0,207.0 491.0,210.3 466.0,224.1 460.0,220.8" fill="#ffffff" />
<polygon points="457.0,222.2 483.0,236.6 483.0,245.6 457.0,231.2" fill="#1b8f96" />
<polygon points="483.0,236.6 488.0,233.8 488.0,242.8 483.0,245.6" fill="#22a0a6" />
<polygon points="462.0,219.5 488.0,233.8 483.0,236.6 457.0,222.2" fill="#ffffff" />
<polygon points="492.0,218.3 501.0,223.3 501.0,231.8 492.0,226.8" fill="#1b8f96" />
<polygon points="501.0,223.3 508.0,219.4 508.0,227.9 501.0,231.8" fill="#22a0a6" />
<polygon points="499.0,214.5 508.0,219.4 501.0,223.3 492.0,218.3" fill="#ffffff" />
<polygon points="508.0,189.8 529.0,201.4 529.0,210.4 508.0,198.8" fill="#1b8f96" />
<polygon points="529.0,201.4 535.0,198.1 535.0,207.1 529.0,210.4" fill="#22a0a6" />
<polygon points="514.0,186.5 535.0,198.1 529.0,201.4 508.0,189.8" fill="#ffffff" />
<rect x="465.0" y="216.0" width="1.5" height="2.2" fill="#b5651d" />
<rect x="469.0" y="214.0" width="1.5" height="2.2" fill="#c62828" />
<rect x="473.0" y="212.0" width="1.5" height="2.2" fill="#7b5aa6" />
<rect x="479.0" y="207.5" width="1.5" height="2.2" fill="#b5651d" />
<rect x="484.0" y="204.5" width="1.5" height="2.2" fill="#1b8f96" />
<rect x="519.0" y="188.0" width="1.5" height="2.2" fill="#c62828" />
<rect x="524.0" y="191.0" width="1.5" height="2.2" fill="#e8a21a" />
<rect x="529.0" y="194.0" width="1.5" height="2.2" fill="#7b5aa6" />
<rect x="468.0" y="223.5" width="1.5" height="2.2" fill="#7b5aa6" />
<rect x="476.0" y="228.0" width="1.5" height="2.2" fill="#b5651d" />
<polygon points="520.0,211.7 533.0,218.8 533.0,220.3 520.0,213.2" fill="#dfeaf0" />
<polygon points="533.0,218.8 546.0,211.7 546.0,213.2 533.0,220.3" fill="#eef5f8" />
<polygon points="533.0,204.5 546.0,211.7 533.0,218.8 520.0,211.7" fill="#ffffff" />
<rect x="520.5" y="212.5" width="1.0" height="6.0" fill="#86b8cf" />
<rect x="533.0" y="219.5" width="1.0" height="6.0" fill="#86b8cf" />
<rect x="545.5" y="212.5" width="1.0" height="6.0" fill="#86b8cf" />
<rect x="521.8" y="207.0" width="5.4" height="6.4" fill="#1b2230" />
<rect x="523.8" y="213.4" width="1.4" height="2.0" fill="#1b2230" />
<ellipse cx="536.0" cy="215.0" rx="2.2" ry="1.6" fill="#d98b2b" />
<polygon points="540.0,207.5 544.5,205.2 544.5,211.5 540.0,213.8" fill="#1fa0a0" />
<rect x="503.7" y="216.8" width="1.2" height="5.2" fill="#e6c9a8" />
<rect x="505.1" y="216.8" width="1.2" height="5.2" fill="#e6c9a8" />
<rect x="503.1" y="209.7" width="3.9" height="7.8" fill="#ffffff" rx="0.8"/>
<ellipse cx="505.0" cy="207.7" rx="1.8" ry="2.0" fill="#2b2b2b" />
<rect x="483.0" y="227.0" width="0.9" height="4.0" fill="#e6c9a8" />
<rect x="484.1" y="227.0" width="0.9" height="4.0" fill="#e6c9a8" />
<rect x="482.5" y="221.5" width="3.0" height="6.0" fill="#ffffff" rx="0.8"/>
<ellipse cx="484.0" cy="220.0" rx="1.4" ry="1.5" fill="#2b2b2b" />
<rect x="465.2" y="217.8" width="0.7" height="3.2" fill="#e6c9a8" />
<rect x="466.1" y="217.8" width="0.7" height="3.2" fill="#e6c9a8" />
<rect x="464.8" y="213.4" width="2.4" height="4.8" fill="#ffffff" rx="0.8"/>
<ellipse cx="466.0" cy="212.2" rx="1.1" ry="1.2" fill="#2b2b2b" />
</g></g>
<ellipse cx="481" cy="132" rx="137.6" ry="130.8" fill="none" stroke="#1a58b2" stroke-width="2.0"/>
<path d="M341.9,112.7 L300,241" fill="none" stroke="#1a58b2" stroke-width="2.0" stroke-dasharray="10.5 7 2.6 7" stroke-linecap="butt"/>
<polygon points="177.0,332.0 312.0,407.5 312.0,418.5 177.0,343.0" fill="#7d441f" />
<polygon points="312.0,407.5 445.0,333.0 445.0,344.0 312.0,418.5" fill="#8e4b21" />
<polygon points="177.0,332.0 312.0,407.5 445.0,333.0 310.0,257.5" fill="#a4977f" />
<polygon points="177.0,332.0 312.0,407.5 333.9,395.2 198.9,319.7" fill="#888070" />
<polygon points="289.7,395.0 312.0,407.5 445.0,333.0 422.7,320.5" fill="#888070" />
<polygon points="198.9,319.7 311.7,382.8 422.7,320.5 419.4,318.7 311.6,379.0 202.3,317.8" fill="#bbb09c" />
<line x1="190.9" y1="327.5" x2="197.9" y2="331.4" stroke="#ffffff" stroke-width="1.50" />
<line x1="203.0" y1="334.3" x2="210.1" y2="338.2" stroke="#ffffff" stroke-width="1.50" />
<line x1="215.1" y1="341.1" x2="222.2" y2="345.0" stroke="#ffffff" stroke-width="1.50" />
<line x1="227.3" y1="347.8" x2="234.3" y2="351.8" stroke="#ffffff" stroke-width="1.50" />
<line x1="239.4" y1="354.6" x2="246.4" y2="358.5" stroke="#ffffff" stroke-width="1.50" />
<line x1="251.5" y1="361.4" x2="258.5" y2="365.3" stroke="#ffffff" stroke-width="1.50" />
<line x1="263.6" y1="368.2" x2="270.6" y2="372.1" stroke="#ffffff" stroke-width="1.50" />
<line x1="275.7" y1="374.9" x2="282.8" y2="378.9" stroke="#ffffff" stroke-width="1.50" />
<line x1="287.8" y1="381.7" x2="294.9" y2="385.6" stroke="#ffffff" stroke-width="1.50" />
<line x1="300.0" y1="388.5" x2="307.0" y2="392.4" stroke="#ffffff" stroke-width="1.50" />
<line x1="320.1" y1="390.5" x2="327.3" y2="386.4" stroke="#ffffff" stroke-width="1.50" />
<line x1="332.6" y1="383.5" x2="339.9" y2="379.4" stroke="#ffffff" stroke-width="1.50" />
<line x1="345.1" y1="376.5" x2="352.4" y2="372.4" stroke="#ffffff" stroke-width="1.50" />
<line x1="357.6" y1="369.5" x2="364.9" y2="365.4" stroke="#ffffff" stroke-width="1.50" />
<line x1="370.2" y1="362.5" x2="377.4" y2="358.4" stroke="#ffffff" stroke-width="1.50" />
<line x1="382.7" y1="355.4" x2="390.0" y2="351.4" stroke="#ffffff" stroke-width="1.50" />
<line x1="395.2" y1="348.4" x2="402.5" y2="344.4" stroke="#ffffff" stroke-width="1.50" />
<line x1="407.7" y1="341.4" x2="415.0" y2="337.3" stroke="#ffffff" stroke-width="1.50" />
<line x1="420.3" y1="334.4" x2="427.5" y2="330.3" stroke="#ffffff" stroke-width="1.50" />
<polygon points="211.6,312.6 223.7,319.4 322.1,264.3 310.0,257.5" fill="#1fd64a" />
<polygon points="334.4,281.6 408.7,323.1 418.0,317.9 343.8,276.4" fill="#19c93f" />
<polygon points="334.4,281.6 408.7,323.1 408.7,320.1 334.4,278.6" fill="#16b838" />
<polygon points="334.4,278.6 408.7,320.1 418.0,314.9 343.8,273.4" fill="#2be356" />
<polygon points="281.1,351.5 314.2,370.0 372.7,337.2 339.6,318.7" fill="#857c6d" />
<polygon points="317.4,307.8 381.5,343.6 397.5,334.7 333.3,298.8" fill="#857c6d" />
<polygon points="340.6,341.6 358.1,351.4 376.8,341.0 359.2,331.2" fill="#aa9e8a" stroke="#c6bca9" stroke-width="0.6"/>
<line x1="281.4" y1="351.4" x2="314.4" y2="369.9" stroke="#ece7dd" stroke-width="0.80" />
<line x1="314.4" y1="369.9" x2="352.1" y2="348.8" stroke="#ece7dd" stroke-width="0.80" />
<line x1="320.2" y1="366.7" x2="306.0" y2="358.7" stroke="#ece7dd" stroke-width="0.80" />
<line x1="326.0" y1="363.4" x2="311.8" y2="355.5" stroke="#ece7dd" stroke-width="0.80" />
<line x1="331.9" y1="360.1" x2="317.7" y2="352.2" stroke="#ece7dd" stroke-width="0.80" />
<line x1="337.7" y1="356.8" x2="323.5" y2="348.9" stroke="#ece7dd" stroke-width="0.80" />
<line x1="343.6" y1="353.5" x2="329.4" y2="345.6" stroke="#ece7dd" stroke-width="0.80" />
<line x1="349.4" y1="350.3" x2="335.2" y2="342.3" stroke="#ece7dd" stroke-width="0.80" />
<line x1="319.0" y1="330.3" x2="330.5" y2="336.7" stroke="#ece7dd" stroke-width="0.80" />
<line x1="302.4" y1="339.6" x2="313.2" y2="345.6" stroke="#ece7dd" stroke-width="0.80" />
<line x1="307.7" y1="336.6" x2="318.5" y2="342.7" stroke="#ece7dd" stroke-width="0.80" />
<line x1="313.0" y1="333.6" x2="323.8" y2="339.7" stroke="#ece7dd" stroke-width="0.80" />
<line x1="318.3" y1="330.7" x2="329.1" y2="336.7" stroke="#ece7dd" stroke-width="0.80" />
<polygon points="268.0,257.0 293.0,271.0 293.0,311.0 268.0,297.0" fill="#e9f3fc" />
<polygon points="268.8,259.0 275.6,262.8 275.6,279.6 268.8,275.8" fill="#a6d2f5" />
<polygon points="277.1,263.7 283.9,267.5 283.9,284.3 277.1,280.5" fill="#a6d2f5" />
<polygon points="285.4,268.4 292.2,272.2 292.2,289.0 285.4,285.2" fill="#a6d2f5" />
<polygon points="268.8,279.0 275.6,282.8 275.6,299.6 268.8,295.8" fill="#a6d2f5" />
<polygon points="277.1,283.7 283.9,287.5 283.9,304.3 277.1,300.5" fill="#a6d2f5" />
<polygon points="285.4,288.4 292.2,292.2 292.2,309.0 285.4,305.2" fill="#a6d2f5" />
<polygon points="265.6,252.5 293.0,236.5 293.0,266.5" fill="#447bf0" />
<polygon points="265.6,252.5 293.0,266.5 293.0,271.5 265.6,257.5" fill="#2a58d6" />
<rect x="278.5" y="282.0" width="3.6" height="6.0" fill="#2e62e6" transform="skewY(28.8)" transform-origin="278.5 282"/>
<polygon points="293.0,224.0 320.0,241.0 320.0,318.0 293.0,301.0" fill="#e9f3fc" />
<polygon points="293.8,226.0 301.2,230.7 301.2,246.9 293.8,242.2" fill="#a6d2f5" />
<polygon points="302.8,231.7 310.2,236.4 310.2,252.5 302.8,247.9" fill="#a6d2f5" />
<polygon points="311.8,237.4 319.2,242.0 319.2,258.2 311.8,253.6" fill="#a6d2f5" />
<polygon points="293.8,245.3 301.2,249.9 301.2,266.1 293.8,261.5" fill="#a6d2f5" />
<polygon points="302.8,251.0 310.2,255.6 310.2,271.8 302.8,267.1" fill="#a6d2f5" />
<polygon points="311.8,256.6 319.2,261.3 319.2,277.4 311.8,272.8" fill="#a6d2f5" />
<polygon points="293.8,264.6 301.2,269.2 301.2,285.4 293.8,280.7" fill="#a6d2f5" />
<polygon points="302.8,270.2 310.2,274.9 310.2,291.0 302.8,286.4" fill="#a6d2f5" />
<polygon points="311.8,275.9 319.2,280.5 319.2,296.7 311.8,292.1" fill="#a6d2f5" />
<polygon points="293.8,283.8 301.2,288.4 301.2,304.6 293.8,300.0" fill="#a6d2f5" />
<polygon points="302.8,289.5 310.2,294.1 310.2,310.3 302.8,305.6" fill="#a6d2f5" />
<polygon points="311.8,295.1 319.2,299.8 319.2,315.9 311.8,311.3" fill="#a6d2f5" />
<polygon points="320.0,241.0 347.0,224.0 347.0,301.0 320.0,318.0" fill="#e9f3fc" />
<polygon points="320.8,242.0 328.2,237.4 328.2,253.6 320.8,258.2" fill="#bfe0fa" />
<polygon points="329.8,236.4 337.2,231.7 337.2,247.9 329.8,252.5" fill="#bfe0fa" />
<polygon points="338.8,230.7 346.2,226.0 346.2,242.2 338.8,246.9" fill="#bfe0fa" />
<polygon points="320.8,261.3 328.2,256.6 328.2,272.8 320.8,277.4" fill="#bfe0fa" />
<polygon points="329.8,255.6 337.2,251.0 337.2,267.1 329.8,271.8" fill="#bfe0fa" />
<polygon points="338.8,249.9 346.2,245.3 346.2,261.5 338.8,266.1" fill="#bfe0fa" />
<polygon points="320.8,280.5 328.2,275.9 328.2,292.1 320.8,296.7" fill="#bfe0fa" />
<polygon points="329.8,274.9 337.2,270.2 337.2,286.4 329.8,291.0" fill="#bfe0fa" />
<polygon points="338.8,269.2 346.2,264.6 346.2,280.7 338.8,285.4" fill="#bfe0fa" />
<polygon points="320.8,299.8 328.2,295.1 328.2,311.3 320.8,315.9" fill="#bfe0fa" />
<polygon points="329.8,294.1 337.2,289.5 337.2,305.6 329.8,310.3" fill="#bfe0fa" />
<polygon points="338.8,288.4 346.2,283.8 346.2,300.0 338.8,304.6" fill="#bfe0fa" />
<polygon points="292.0,218.0 320.0,200.0 347.5,218.0 320.0,236.0" fill="#447bf0" />
<polygon points="292.0,218.0 320.0,236.0 320.0,243.5 292.0,225.5" fill="#2a58d6" />
<polygon points="320.0,236.0 347.5,218.0 347.5,225.5 320.0,243.5" fill="#3466e4" />
<ellipse cx="320" cy="216.3" rx="9.6" ry="5.6" fill="none" stroke="#ffffff" stroke-width="1.3"/>
<text x="0" y="3.4" text-anchor="middle" font-family="Liberation Sans,sans-serif" font-weight="700" font-size="9.5" fill="#ffffff" transform="translate(320 216.4) matrix(0.82 0.45 -0.82 0.45 0 0)">H</text>
<text x="293.2" y="225.2" textLength="27" lengthAdjust="spacingAndGlyphs" font-family="Liberation Sans,sans-serif" font-weight="700" font-size="6.4" fill="#ffffff" stroke="#ffffff" stroke-width="0.25" transform="translate(293.2 225.2) skewY(32.7) translate(-293.2 -225.2)">HOSPITAL</text>
<text x="320.6" y="242.6" textLength="26.5" lengthAdjust="spacingAndGlyphs" font-family="Liberation Sans,sans-serif" font-weight="700" font-size="6.4" fill="#ffffff" stroke="#ffffff" stroke-width="0.25" transform="translate(320.6 242.6) skewY(-33.2) translate(-320.6 -242.6)">HOSPITAL</text>
<circle cx="318.5" cy="249.7" r="28" fill="url(#gGlow)"/>
<circle cx="318.5" cy="249.7" r="24.4" fill="#d3eafa"/>
<g clip-path="url(#smc)"><g transform="translate(318.5 249.7) scale(0.178) translate(-481 -132)"><use href="#bigart"/></g></g>
<circle cx="318.5" cy="249.7" r="24.4" fill="none" stroke="#1f66c8" stroke-width="1.6"/>
<path d="M332.8,272.1 L478,263.6" fill="none" stroke="#1a58b2" stroke-width="2.0" stroke-dasharray="2 6.4 8 6.4"/>
<rect x="218.8" y="305.7" width="1.5" height="6.3" fill="#22a83a" />
<ellipse cx="219.5" cy="302.6" rx="4.0" ry="5.2" fill="#1fc43f" />
<ellipse cx="218.8" cy="301.5" rx="2.7" ry="3.6" fill="#2fdb55" />
<rect x="227.5" y="306.8" width="1.0" height="4.2" fill="#22a83a" />
<ellipse cx="228.0" cy="304.7" rx="2.7" ry="3.5" fill="#1fc43f" />
<ellipse cx="227.5" cy="304.0" rx="1.8" ry="2.4" fill="#2fdb55" />
<rect x="249.0" y="286.5" width="1.0" height="4.5" fill="#22a83a" />
<ellipse cx="249.5" cy="284.2" rx="2.8" ry="3.8" fill="#1fc43f" />
<ellipse cx="249.0" cy="283.5" rx="2.0" ry="2.5" fill="#2fdb55" />
<rect x="366.3" y="283.0" width="1.4" height="6.0" fill="#22a83a" />
<ellipse cx="367.0" cy="280.0" rx="3.8" ry="5.0" fill="#1fc43f" />
<ellipse cx="366.3" cy="279.0" rx="2.6" ry="3.4" fill="#2fdb55" />
<rect x="402.3" y="303.0" width="1.4" height="6.0" fill="#22a83a" />
<ellipse cx="403.0" cy="300.0" rx="3.8" ry="5.0" fill="#1fc43f" />
<ellipse cx="402.3" cy="299.0" rx="2.6" ry="3.4" fill="#2fdb55" />
<rect x="354.6" y="279.7" width="0.8" height="3.3" fill="#22a83a" />
<ellipse cx="355.0" cy="278.1" rx="2.1" ry="2.8" fill="#1fc43f" />
<ellipse cx="354.6" cy="277.5" rx="1.4" ry="1.9" fill="#2fdb55" />
<rect x="380.6" y="294.7" width="0.8" height="3.3" fill="#22a83a" />
<ellipse cx="381.0" cy="293.1" rx="2.1" ry="2.8" fill="#1fc43f" />
<ellipse cx="380.6" cy="292.5" rx="1.4" ry="1.9" fill="#2fdb55" />
<rect x="391.6" y="300.7" width="0.8" height="3.3" fill="#22a83a" />
<ellipse cx="392.0" cy="299.1" rx="2.1" ry="2.8" fill="#1fc43f" />
<ellipse cx="391.6" cy="298.5" rx="1.4" ry="1.9" fill="#2fdb55" />
<polygon points="237.5,306.0 263.5,319.0 263.5,347.0 237.5,334.0" fill="#e9f3fc" />
<polygon points="238.3,307.5 245.4,311.1 245.4,322.8 238.3,319.3" fill="#a6d2f5" />
<polygon points="246.9,311.8 254.1,315.4 254.1,327.2 246.9,323.6" fill="#a6d2f5" />
<polygon points="255.6,316.2 262.7,319.7 262.7,331.5 255.6,327.9" fill="#a6d2f5" />
<polygon points="238.3,321.5 245.4,325.1 245.4,336.8 238.3,333.3" fill="#a6d2f5" />
<polygon points="246.9,325.8 254.1,329.4 254.1,341.2 246.9,337.6" fill="#a6d2f5" />
<polygon points="255.6,330.2 262.7,333.7 262.7,345.5 255.6,341.9" fill="#a6d2f5" />
<polygon points="263.5,319.0 288.5,305.0 288.5,332.0 263.5,346.0" fill="#e9f3fc" />
<polygon points="264.2,319.7 271.1,315.8 271.1,327.2 264.2,331.0" fill="#bfe0fa" />
<polygon points="272.6,315.0 279.4,311.2 279.4,322.5 272.6,326.3" fill="#bfe0fa" />
<polygon points="280.9,310.3 287.8,306.5 287.8,317.8 280.9,321.7" fill="#bfe0fa" />
<polygon points="264.2,333.2 271.1,329.3 271.1,340.7 264.2,344.5" fill="#bfe0fa" />
<polygon points="272.6,328.5 279.4,324.7 279.4,336.0 272.6,339.8" fill="#bfe0fa" />
<polygon points="280.9,323.8 287.8,320.0 287.8,331.3 280.9,335.2" fill="#bfe0fa" />
<polygon points="234.0,298.3 263.5,281.3 290.3,298.3 263.5,310.8" fill="#447bf0" />
<polygon points="234.0,298.3 263.5,310.8 263.5,318.3 234.0,305.3" fill="#2a58d6" />
<polygon points="263.5,310.8 290.3,298.3 290.3,305.3 263.5,318.3" fill="#3466e4" />
<text x="235.2" y="305.0" textLength="27" lengthAdjust="spacingAndGlyphs" font-family="Liberation Sans,sans-serif" font-weight="700" font-size="6.2" fill="#ffffff" stroke="#ffffff" stroke-width="0.25" transform="translate(235.2 305.0) skewY(23) translate(-235.2 -305.0)">HOSPITAL</text>
<text x="264.6" y="317.6" textLength="25" lengthAdjust="spacingAndGlyphs" font-family="Liberation Sans,sans-serif" font-weight="700" font-size="6.2" fill="#ffffff" stroke="#ffffff" stroke-width="0.25" transform="translate(264.6 317.6) skewY(-25) translate(-264.6 -317.6)">HOSPITAL</text>
<polygon points="268.0,331.0 289.0,320.5 291.0,322.0 270.0,332.5" fill="#ffffff" />
<rect x="276.5" y="331.0" width="1.3" height="14.0" fill="#ffffff" />
<rect x="287.0" y="325.5" width="1.3" height="14.0" fill="#ffffff" />
<rect x="270.0" y="333.0" width="1.2" height="10.0" fill="#f2f2f2" />
<rect x="271.5" y="333.0" width="3.4" height="9.0" fill="#2e62e6" />
<ellipse cx="283.7" cy="327.6" rx="2.3" ry="2.3" fill="#ffffff" />
<rect x="282.5" y="327.0" width="2.4" height="1.2" fill="#d62839" />
<rect x="283.1" y="326.4" width="1.2" height="2.4" fill="#d62839" />
<polygon points="298.0,341.5 313.0,349.8 313.0,352.4 298.0,344.1" fill="#1b45b8" />
<polygon points="313.0,349.8 318.5,346.8 318.5,349.4 313.0,352.4" fill="#2a5be0" />
<polygon points="303.5,338.5 318.5,346.8 313.0,349.8 298.0,341.5" fill="#3a74ff" />
<polygon points="306.7,337.1 313.7,340.9 309.5,343.3 302.5,339.4" fill="#e6eefb" />
<polygon points="302.5,339.4 309.5,343.3 309.5,344.9 302.5,341.0" fill="#9bb7e6" />
<polygon points="281.5,350.5 296.5,358.8 296.5,361.4 281.5,353.1" fill="#b8231f" />
<polygon points="296.5,358.8 302.0,355.8 302.0,358.4 296.5,361.4" fill="#d8342e" />
<polygon points="287.0,347.5 302.0,355.8 296.5,358.8 281.5,350.5" fill="#f4524a" />
<polygon points="290.2,346.1 297.2,349.9 293.0,352.3 286.0,348.4" fill="#e6eefb" />
<polygon points="286.0,348.4 293.0,352.3 293.0,353.9 286.0,350.0" fill="#9bb7e6" />
<polygon points="346.0,311.0 352.0,307.5 359.0,311.5 353.0,315.0" fill="#ffffff" />
<polygon points="346.0,311.0 353.0,315.0 353.0,318.0 346.0,314.0" fill="#e8edf2" />
<polygon points="353.0,315.0 359.0,311.5 359.0,314.5 353.0,318.0" fill="#f4f7fa" />
<rect x="350.5" y="309.6" width="2.4" height="1.2" fill="#d62839" />
<rect x="354.0" y="313.0" width="2.5" height="1.2" fill="#2e62e6" />
<path d="M168,77 H219 L399,121" fill="none" stroke="#c4301a" stroke-width="2.1" stroke-linejoin="round"/>
<path d="M168,166 H218 L377,177.5" fill="none" stroke="#c4301a" stroke-width="2.1" stroke-linejoin="round"/>
<path d="M657,66.5 H607 L463,52" fill="none" stroke="#c4301a" stroke-width="2.1" stroke-linejoin="round"/>
<path d="M655,241 H605 L350,299" fill="none" stroke="#c4301a" stroke-width="2.1" stroke-linejoin="round"/>
<path d="M655,365 H606 L400,324" fill="none" stroke="#c4301a" stroke-width="2.1" stroke-linejoin="round"/>
<ellipse cx="448.4" cy="68.3" rx="15.0" ry="5.8" fill="#b9efb9" opacity="0.95"/>
<ellipse cx="448.4" cy="68.3" rx="9.3" ry="3.6" fill="#9be89f" />
<ellipse cx="448.4" cy="68.3" rx="5.4" ry="2.3" fill="#1cb84a" />
<ellipse cx="412.4" cy="144.2" rx="15.5" ry="6.2" fill="#b9efb9" opacity="0.95"/>
<ellipse cx="412.4" cy="144.2" rx="9.6" ry="3.8" fill="#9be89f" />
<ellipse cx="412.4" cy="144.2" rx="5.6" ry="2.5" fill="#1cb84a" />
<ellipse cx="388.0" cy="200.0" rx="15.0" ry="6.0" fill="#b9efb9" opacity="0.95"/>
<ellipse cx="388.0" cy="200.0" rx="9.3" ry="3.7" fill="#9be89f" />
<ellipse cx="388.0" cy="200.0" rx="5.4" ry="2.4" fill="#1cb84a" />
<ellipse cx="333.7" cy="321.5" rx="17.5" ry="6.6" fill="#b9efb9" opacity="0.95"/>
<ellipse cx="333.7" cy="321.5" rx="10.8" ry="4.1" fill="#9be89f" />
<ellipse cx="333.7" cy="321.5" rx="6.3" ry="2.6" fill="#1cb84a" />
<ellipse cx="254.5" cy="363.8" rx="14.8" ry="6.0" fill="#b9efb9" opacity="0.95"/>
<ellipse cx="254.5" cy="363.8" rx="9.2" ry="3.7" fill="#9be89f" />
<ellipse cx="254.5" cy="363.8" rx="5.3" ry="2.4" fill="#1cb84a" />
<ellipse cx="384.8" cy="345.8" rx="16.0" ry="6.5" fill="#b9efb9" opacity="0.95"/>
<ellipse cx="384.8" cy="345.8" rx="9.9" ry="4.0" fill="#9be89f" />
<ellipse cx="384.8" cy="345.8" rx="5.8" ry="2.6" fill="#1cb84a" />
<polygon points="449.0,33.0 462.6,40.1 462.6,54.3 449.0,61.4 435.4,54.3 435.4,40.1" fill="#2f7a33" stroke="#2f7a33" stroke-width="2.4" stroke-linejoin="round"/>
<polygon points="449.0,35.9 459.8,41.6 459.8,52.8 449.0,58.5 438.2,52.8 438.2,41.6" fill="#2b6a2e" stroke="#2b6a2e" stroke-width="1.5" stroke-linejoin="round"/>
<rect x="441.8" y="42.9" width="10.4" height="8.6" fill="#5db562" stroke="#b6e0b4" stroke-width="1.3" rx="0.8"/>
<polygon points="452.8,47.2 456.6,44.0 456.6,50.4" fill="#b6e0b4" />
<polygon points="454.6,47.2 456.0,45.9 456.0,48.5" fill="#3d8a40" />
<polygon points="412.6,109.4 425.7,116.3 425.7,130.1 412.6,137.0 399.6,130.1 399.6,116.3" fill="#2f7a33" stroke="#2f7a33" stroke-width="2.4" stroke-linejoin="round"/>
<polygon points="412.6,112.2 423.0,117.7 423.0,128.7 412.6,134.2 402.2,128.7 402.2,117.7" fill="#2b6a2e" stroke="#2b6a2e" stroke-width="1.5" stroke-linejoin="round"/>
<circle cx="412.6" cy="123.2" r="7.2" fill="#4a9d53" stroke="#c4ebc4" stroke-width="1.2"/>
<path d="M412.6,118.0 c-4.2,2.8 -4.8,7.0 -2.4,9.6 l4.8,0 c2.4,-2.6 1.8,-6.8 -2.4,-9.6z" fill="#eefaec"/>
<path d="M412.6,122.8 c-1.8,1.4 -2.0,3.4 -1.1,4.8 l2.2,0 c0.9,-1.4 0.7,-3.4 -1.1,-4.8z" fill="#4a9d53"/>
<polygon points="389.0,163.7 402.3,170.8 402.3,185.2 389.0,192.3 375.7,185.2 375.7,170.8" fill="#2f7a33" stroke="#2f7a33" stroke-width="2.4" stroke-linejoin="round"/>
<polygon points="389.0,166.7 399.6,172.3 399.6,183.7 389.0,189.3 378.4,183.7 378.4,172.3" fill="#2b6a2e" stroke="#2b6a2e" stroke-width="1.5" stroke-linejoin="round"/>
<rect x="381.8" y="173.7" width="10.4" height="8.6" fill="#5db562" stroke="#b6e0b4" stroke-width="1.3" rx="0.8"/>
<polygon points="392.8,178.0 396.6,174.8 396.6,181.2" fill="#b6e0b4" />
<polygon points="394.6,178.0 396.0,176.7 396.0,179.3" fill="#3d8a40" />
<polygon points="333.7,281.0 349.0,289.4 349.0,306.2 333.7,314.6 318.4,306.2 318.4,289.4" fill="#2f7a33" stroke="#2f7a33" stroke-width="2.4" stroke-linejoin="round"/>
<polygon points="333.7,284.5 345.8,291.2 345.8,304.4 333.7,311.1 321.6,304.4 321.6,291.2" fill="#2b6a2e" stroke="#2b6a2e" stroke-width="1.5" stroke-linejoin="round"/>
<rect x="327.4" y="289.2" width="12.6" height="17.0" fill="#7cc787" stroke="#c4ebc4" stroke-width="1.2" rx="0.8"/>
<rect x="329.5" y="291.4" width="8.4" height="13.6" fill="#5fae6a" stroke="#d4f0d2" stroke-width="0.7"/>
<rect x="335.6" y="297.4" width="1.4" height="3.0" fill="#e4f6e2" />
<polygon points="254.3,328.4 267.6,335.6 267.6,350.0 254.3,357.2 241.0,350.0 241.0,335.6" fill="#2f7a33" stroke="#2f7a33" stroke-width="2.4" stroke-linejoin="round"/>
<polygon points="254.3,331.4 264.9,337.1 264.9,348.5 254.3,354.2 243.7,348.5 243.7,337.1" fill="#2b6a2e" stroke="#2b6a2e" stroke-width="1.5" stroke-linejoin="round"/>
<rect x="247.1" y="338.5" width="10.4" height="8.6" fill="#5db562" stroke="#b6e0b4" stroke-width="1.3" rx="0.8"/>
<polygon points="258.1,342.8 261.9,339.6 261.9,346.0" fill="#b6e0b4" />
<polygon points="259.9,342.8 261.3,341.5 261.3,344.1" fill="#3d8a40" />
<polygon points="385.0,309.4 398.8,316.9 398.8,332.1 385.0,339.6 371.2,332.1 371.2,316.9" fill="#2f7a33" stroke="#2f7a33" stroke-width="2.4" stroke-linejoin="round"/>
<polygon points="385.0,312.5 395.9,318.5 395.9,330.5 385.0,336.5 374.1,330.5 374.1,318.5" fill="#2b6a2e" stroke="#2b6a2e" stroke-width="1.5" stroke-linejoin="round"/>
<rect x="377.6" y="316.1" width="5.0" height="16.6" fill="#3f8f4a" stroke="#d4f0d2" stroke-width="1.1" rx="1.2"/>
<rect x="378.4" y="316.9" width="3.4" height="3.4" fill="#3f8f4a" stroke="#d4f0d2" stroke-width="0.8"/>
<rect x="382.6" y="322.7" width="10.6" height="3.6" fill="#e8f8e6" rx="0.5"/>
<rect x="384.2" y="323.4" width="1.1" height="2.2" fill="#2b6a2e" />
<rect x="386.4" y="323.4" width="1.1" height="2.2" fill="#2b6a2e" />
<rect x="388.6" y="323.4" width="1.1" height="2.2" fill="#2b6a2e" />
<rect x="390.8" y="323.4" width="1.1" height="2.2" fill="#2b6a2e" />
<path d="M168,371 H217 L255.5,344" fill="none" stroke="#c4301a" stroke-width="2.1" stroke-linejoin="round"/>
<g>
<ellipse cx="60.5" cy="53.0" rx="26.0" ry="17.5" fill="url(#gWhiteV)" transform="rotate(-16 60.5 53)"/>
<ellipse cx="61.0" cy="50.8" rx="24.6" ry="14.6" fill="#f4f4f5" transform="rotate(-16 61 50.8)"/>
<circle cx="64.8" cy="63.8" r="21.2" fill="url(#gDome)"/>
<path d="M47.5,66 Q50,52 66,49.2 Q79,50 83.5,60" fill="none" stroke="#b9b9be" stroke-width="1.6" opacity="0.8"/>
<path d="M46.5,69 Q44,60 48,54" fill="none" stroke="#d0d0d4" stroke-width="1.2"/>
<ellipse cx="65.5" cy="70.8" rx="16.2" ry="13.0" fill="#dededf" transform="rotate(-22 65.5 70.8)"/>
<ellipse cx="66.0" cy="72.2" rx="14.0" ry="10.8" fill="#f1f1f2" transform="rotate(-22 66 72.2)"/>
<ellipse cx="65.8" cy="73.4" rx="11.8" ry="9.2" fill="#b3202a" transform="rotate(-22 65.8 73.4)"/>
<ellipse cx="67.0" cy="72.8" rx="10.6" ry="8.2" fill="#2a1d1f" transform="rotate(-22 67 72.8)"/>
<polygon points="62.0,73.0 70.0,69.6 73.0,74.0 65.0,77.6" fill="#4d4143" />
<text x="40.5" y="49" font-family="Liberation Sans,sans-serif" font-weight="700" font-size="2.6" fill="#c0202a" transform="rotate(-22 40.5 49)">HIKVISION</text>
</g>
<g>
<path d="M98,37.5 Q98,36 100,36 H157 Q159,36 159,37.5 V47.5 Q159,51 152,52.5 Q128.5,56 105,52.5 Q98,51 98,47.5 Z" fill="url(#gWhiteH)"/>
<path d="M98.5,38 H158.5 V40.5 H98.5 Z" fill="#ffffff" opacity="0.8"/>
<path d="M103.5,52 Q128.5,57 153.5,52 Q155.5,66 147,79 Q128.5,96 110,79 Q101.5,66 103.5,52 Z" fill="url(#gDome)"/>
<rect x="108.3" y="57.4" width="37.4" height="31.4" rx="13.5" fill="#cfcfd4"/>
<rect x="110.2" y="59" width="33.6" height="28.6" rx="12" fill="#2b2b2e"/>
<rect x="111.6" y="60.5" width="30.8" height="25.6" rx="10.8" fill="#38383c"/>
<circle cx="119.2" cy="73.6" r="6.0" fill="url(#gLens)"/><circle cx="119.2" cy="73.6" r="3.1" fill="#4a4a50"/>
<circle cx="134.2" cy="73.2" r="5.5" fill="url(#gLens)"/><circle cx="134.2" cy="73.2" r="2.8" fill="#505058"/>
<polygon points="125.6,84.2 127.8,80.4 130.0,84.2" fill="#17171a" />
</g>
<g transform="translate(0.0 0.0) scale(1.000)">
<path d="M73,156 L114.5,151.8 Q120.5,152 120.8,158 L120.8,172.5 Q120.5,175 117,176 L92,185.8 L79,166 Z" fill="url(#gBody)"/>
<path d="M92,185.8 L117,176 Q120.5,175 120.8,172.5 L120.8,166 L91.5,176 Z" fill="#c3c3c7" opacity="0.85"/>
<path d="M73,156 L114.5,151.8 L116,153.5 L76,158.5 Z" fill="#ffffff"/>
<rect x="92.5" y="152.6" width="2.2" height="1.2" fill="#d0d0d4" />
<path d="M53,158.5 Q52.5,156 56,155.6 L72.5,155 L79.5,166 L92,173.2 L92,184.8 L73.8,188 L62,182 L60.2,162 Z" fill="#1c1c1f"/>
<path d="M60.2,160 L72.5,158.2 L79.2,166.4 L79.2,186.8 L73.8,188 L62,182 Z" fill="#333338"/>
<circle cx="65.6" cy="171.5" r="3.7" fill="#8a8a90"/><circle cx="65.6" cy="171.5" r="2.2" fill="#b9b9c0"/>
<circle cx="73.6" cy="173.6" r="3.1" fill="#77777d"/><circle cx="73.6" cy="173.6" r="1.7" fill="#a5a5ad"/>
<circle cx="69" cy="181" r="2.0" fill="#9a9aa0"/>
<text x="109" y="167.3" font-family="Liberation Sans,sans-serif" font-weight="700" font-size="2.4" fill="#c0202a" transform="rotate(-19 109 167.3)">HIKVISION</text>
</g>
<g transform="translate(2.0 103.0) scale(1.000)">
<path d="M73,156 L114.5,151.8 Q120.5,152 120.8,158 L120.8,172.5 Q120.5,175 117,176 L92,185.8 L79,166 Z" fill="url(#gBody)"/>
<path d="M92,185.8 L117,176 Q120.5,175 120.8,172.5 L120.8,166 L91.5,176 Z" fill="#c3c3c7" opacity="0.85"/>
<path d="M73,156 L114.5,151.8 L116,153.5 L76,158.5 Z" fill="#ffffff"/>
<rect x="92.5" y="152.6" width="2.2" height="1.2" fill="#d0d0d4" />
<path d="M53,158.5 Q52.5,156 56,155.6 L72.5,155 L79.5,166 L92,173.2 L92,184.8 L73.8,188 L62,182 L60.2,162 Z" fill="#1c1c1f"/>
<path d="M60.2,160 L72.5,158.2 L79.2,166.4 L79.2,186.8 L73.8,188 L62,182 Z" fill="#333338"/>
<circle cx="65.6" cy="171.5" r="3.7" fill="#8a8a90"/><circle cx="65.6" cy="171.5" r="2.2" fill="#b9b9c0"/>
<circle cx="73.6" cy="173.6" r="3.1" fill="#77777d"/><circle cx="73.6" cy="173.6" r="1.7" fill="#a5a5ad"/>
<circle cx="69" cy="181" r="2.0" fill="#9a9aa0"/>
<text x="109" y="167.3" font-family="Liberation Sans,sans-serif" font-weight="700" font-size="2.4" fill="#c0202a" transform="rotate(-19 109 167.3)">HIKVISION</text>
</g>
<g transform="translate(13.0 221.2) scale(0.869)">
<path d="M73,156 L114.5,151.8 Q120.5,152 120.8,158 L120.8,172.5 Q120.5,175 117,176 L92,185.8 L79,166 Z" fill="url(#gBody)"/>
<path d="M92,185.8 L117,176 Q120.5,175 120.8,172.5 L120.8,166 L91.5,176 Z" fill="#c3c3c7" opacity="0.85"/>
<path d="M73,156 L114.5,151.8 L116,153.5 L76,158.5 Z" fill="#ffffff"/>
<rect x="92.5" y="152.6" width="2.2" height="1.2" fill="#d0d0d4" />
<path d="M53,158.5 Q52.5,156 56,155.6 L72.5,155 L79.5,166 L92,173.2 L92,184.8 L73.8,188 L62,182 L60.2,162 Z" fill="#1c1c1f"/>
<path d="M60.2,160 L72.5,158.2 L79.2,166.4 L79.2,186.8 L73.8,188 L62,182 Z" fill="#333338"/>
<circle cx="69.5" cy="170.5" r="4.4" fill="#55555b"/><circle cx="69.5" cy="170.5" r="2.6" fill="#7a7a82"/>
<circle cx="65.5" cy="179.5" r="1.3" fill="#8a8a90"/><circle cx="74" cy="182" r="1.3" fill="#8a8a90"/>
<text x="109" y="167.3" font-family="Liberation Sans,sans-serif" font-weight="700" font-size="2.4" fill="#c0202a" transform="rotate(-19 109 167.3)">HIKVISION</text>
</g>
<g>
<path d="M693.5,49 Q694,41.5 705,40.6 Q717,39.6 730,40.6 Q741,41.5 741.3,49 L741.3,53 Q741,58 732,60.5 Q717,63 702,60.5 Q693.8,58 693.5,53 Z" fill="url(#gWhiteH)"/>
<path d="M694.5,47 Q717,42 740.5,47 Q738,42 717,41.2 Q697,42 694.5,47 Z" fill="#ffffff"/>
<circle cx="717" cy="70" r="19.5" fill="url(#gDome)"/>
<ellipse cx="717.0" cy="73.5" rx="13.6" ry="15.0" fill="#d9d9dc" />
<ellipse cx="717.0" cy="74.6" rx="11.6" ry="13.4" fill="#3d3d42" />
<ellipse cx="717.0" cy="74.6" rx="10.2" ry="12.0" fill="#4a4a50" />
<rect x="710.5" y="68.0" width="13.0" height="8.5" fill="#5c5c63" rx="1"/>
<rect x="712.5" y="78.5" width="9.0" height="3.6" fill="#66666d" rx="0.8"/>
</g>
<g>
<rect x="684.3" y="180.4" width="13.8" height="9.6" fill="#1b1b1e" rx="0.8"/>
<rect x="690.5" y="183.2" width="6.5" height="1.2" fill="#8a8a90" />
<rect x="678.7" y="189.0" width="25.4" height="52.8" fill="#17181b" rx="1.4"/>
<rect x="680.2" y="191.2" width="22.4" height="2.0" fill="#c9ccd2" />
<rect x="681.2" y="197.5" width="20.4" height="38.8" fill="url(#gScreen)" />
<circle cx="691.4" cy="213" r="3.6" fill="#9cc6ff" opacity="0.9"/>
<rect x="688.5" y="218.5" width="5.8" height="1.2" fill="#cfe2ff" />
<rect x="689.6" y="238.0" width="3.6" height="1.0" fill="#8a8a90" />
<rect x="712.0" y="182.5" width="5.2" height="12.5" fill="#9ea2aa" />
<rect x="712.8" y="183.5" width="3.4" height="8.0" fill="#c6cad0" />
<rect x="709.8" y="196.4" width="10.8" height="9.6" fill="#4a4c52" rx="0.8"/>
<rect x="709.8" y="199.5" width="10.8" height="6.5" fill="#a9abb0" />
<rect x="711.0" y="206.0" width="9.2" height="33.2" fill="url(#gMetal)" />
<rect x="720.6" y="207.0" width="15.4" height="12.0" fill="#e3e4e8" stroke="#b9bbc2" stroke-width="0.7" rx="1"/>
<rect x="723.5" y="210.5" width="10.0" height="2.2" fill="#c6c8ce" />
<rect x="723.5" y="214.5" width="10.0" height="2.2" fill="#c6c8ce" />
<rect x="737.5" y="207.0" width="13.0" height="12.0" fill="#e3e4e8" stroke="#b9bbc2" stroke-width="0.7" rx="1"/>
<rect x="739.5" y="210.5" width="9.0" height="2.2" fill="#c6c8ce" />
<rect x="739.5" y="214.5" width="9.0" height="2.2" fill="#c6c8ce" />
<polygon points="747.0,199.0 757.0,196.4 766.0,198.5 766.0,241.0 756.0,241.8 747.0,236.0" fill="#a7a9ae" />
<polygon points="747.0,199.0 756.0,201.5 756.0,241.8 747.0,236.0" fill="#c4c6ca" />
<polygon points="747.0,199.0 757.0,196.4 766.0,198.5 756.0,201.5" fill="#55575d" />
<rect x="756.4" y="184.0" width="6.2" height="12.6" fill="#1d1e22" rx="0.6"/>
<rect x="757.2" y="185.2" width="4.6" height="7.4" fill="#2d5fb8" />
<rect x="750.0" y="208.0" width="3.0" height="8.0" fill="#e6e7ea" />
<rect x="674.8" y="325.5" width="7.6" height="62.5" fill="url(#gBronze)" rx="1"/>
<rect x="681.6" y="324.6" width="11.6" height="64.0" fill="#26262a" rx="1.2"/>
<rect x="682.8" y="335.4" width="8.8" height="21.8" fill="#0e1424" />
<rect x="683.6" y="338.0" width="7.2" height="10.0" fill="#2f74e8" />
<rect x="684.4" y="350.5" width="5.6" height="1.6" fill="#8fb6ff" />
<rect x="684.4" y="353.2" width="5.6" height="1.4" fill="#ffffff" />
<rect x="684.5" y="328.0" width="6.0" height="3.2" fill="#0c0c0e" rx="1.4"/>
<rect x="684.8" y="366.0" width="4.6" height="6.4" fill="#0c0c0e" />
<rect x="685.8" y="367.2" width="2.6" height="2.2" fill="#d0d0d4" />
<rect x="683.0" y="359.5" width="8.0" height="0.9" fill="#5a5a60" />
<rect x="693.0" y="349.2" width="73.5" height="2.3" fill="#ffffff" stroke="#e0e0e0" stroke-width="0.3"/>
<rect x="693.5" y="349.2" width="5.4" height="2.3" fill="#d3222b" />
<rect x="702.9" y="349.2" width="5.4" height="2.3" fill="#d3222b" />
<rect x="712.2" y="349.2" width="5.4" height="2.3" fill="#d3222b" />
<rect x="721.5" y="349.2" width="5.4" height="2.3" fill="#d3222b" />
<rect x="730.9" y="349.2" width="5.4" height="2.3" fill="#d3222b" />
<rect x="740.2" y="349.2" width="5.4" height="2.3" fill="#d3222b" />
<rect x="749.6" y="349.2" width="5.4" height="2.3" fill="#d3222b" />
<rect x="759.0" y="349.2" width="5.4" height="2.3" fill="#d3222b" />
</g>
<text class="bk" x="89.9" y="103.3" transform="translate(89.6 0) scale(1.000 1) translate(-89.6 0)">安消智能摄像机<tspan dx="0.65" dy="0.6" font-size="12px">/</tspan><tspan dx="0.65" dy="-0.6">热眼警戒半球</tspan></text>
<text class="rd" x="89.9" y="115.4" transform="translate(89.6 0) scale(1.000 1) translate(-89.6 0)">消防联动<tspan dx="0.85" dy="0.6" font-size="12px">/</tspan><tspan dx="0.85" dy="-0.6">可视消防</tspan></text>
<text class="bk" x="86.3" y="208.9" transform="translate(86.0 0) scale(1.000 1) translate(-86.0 0)">测温双光筒机</text>
<text class="rd" x="86.3" y="221.0" transform="translate(86.0 0) scale(1.000 1) translate(-86.0 0)">人员管理<tspan dx="0.85" dy="0.6" font-size="12px">/</tspan><tspan dx="0.85" dy="-0.6">测温防疫</tspan></text>
<text class="bk" x="87.8" y="307.9" transform="translate(87.5 0) scale(1.000 1) translate(-87.5 0)">测温双光筒机</text>
<text class="rd" x="87.8" y="320.0" transform="translate(87.5 0) scale(1.000 1) translate(-87.5 0)">人员管理<tspan dx="0.85" dy="0.6" font-size="12px">/</tspan><tspan dx="0.85" dy="-0.6">测温防疫</tspan></text>
<text class="bk" x="91.1" y="403.9" transform="translate(90.8 0) scale(1.000 1) translate(-90.8 0)">智能警戒摄像机</text>
<text class="rd" x="91.1" y="416.0" transform="translate(90.8 0) scale(1.000 1) translate(-90.8 0)">违停警报<tspan dx="0.85" dy="0.6" font-size="12px">/</tspan><tspan dx="0.85" dy="-0.6">智能警戒</tspan></text>
<text class="bk" x="717.3" y="115.9" transform="translate(717.0 0) scale(1.000 1) translate(-717.0 0)">半球摄像机</text>
<text class="rd" x="717.3" y="128.0" transform="translate(717.0 0) scale(1.000 1) translate(-717.0 0)">声音收录<tspan dx="0.85" dy="0.6" font-size="12px">/</tspan><tspan dx="0.85" dy="-0.6">纠纷回查</tspan></text>
<text class="bk" x="717.3" y="263.9" transform="translate(717.0 0) scale(1.000 1) translate(-717.0 0)">明眸门禁一体机<tspan dx="0.65" dy="0.6" font-size="12px">/</tspan><tspan dx="0.65" dy="-0.6">人员通道</tspan></text>
<text class="rd" x="717.3" y="276.0" transform="translate(717.0 0) scale(1.000 1) translate(-717.0 0)">人员管理<tspan dx="0.85" dy="0.6" font-size="12px">/</tspan><tspan dx="0.85" dy="-0.6">测温防疫</tspan></text>
<text class="bk" x="717.8" y="403.9" transform="translate(717.5 0) scale(1.000 1) translate(-717.5 0)">道闸抓拍显示一体机</text>
<text class="rd" x="717.8" y="416.0" transform="translate(717.5 0) scale(1.000 1) translate(-717.5 0)">快速通行<tspan dx="0.85" dy="0.6" font-size="12px">/</tspan><tspan dx="0.85" dy="-0.6">高效识别</tspan></text>
</svg>
</body></html>
